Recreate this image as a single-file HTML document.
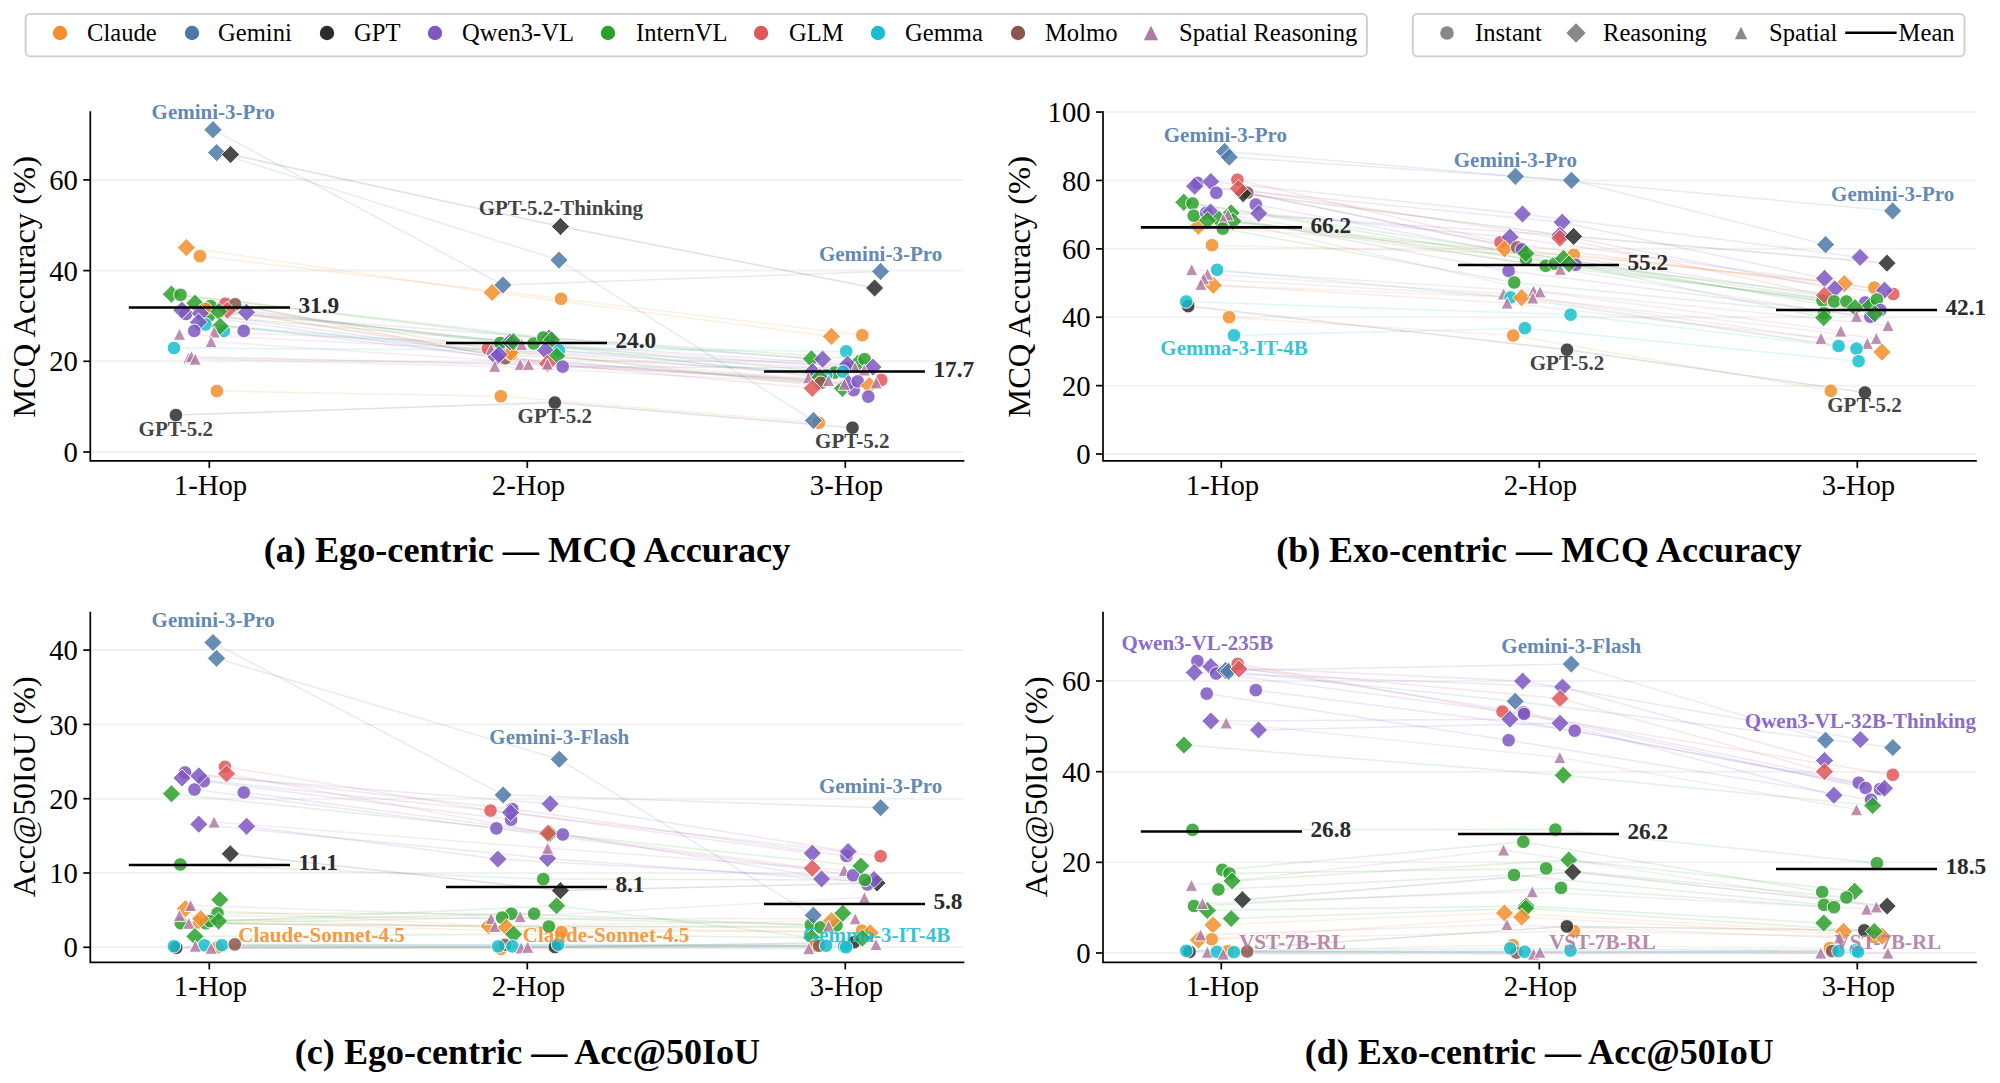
<!DOCTYPE html>
<html lang="en"><head><meta charset="utf-8"><title>Multi-hop accuracy figure</title>
<style>html,body{margin:0;padding:0;background:#fff;}body{width:2000px;height:1083px;overflow:hidden;}svg{display:block;font-family:"Liberation Serif", "DejaVu Serif", serif;}.tk{font-size:28.7px;fill:#000;}.yl{font-size:32.5px;fill:#000;}.tt{font-size:36.2px;font-weight:bold;fill:#000;}.lg{font-size:24.6px;fill:#000;}.an{font-size:21px;font-weight:bold;}.mv{font-size:23.3px;font-weight:bold;fill:#2b2b2b;}</style></head><body>
<svg width="2000" height="1083" viewBox="0 0 2000 1083">
<rect width="2000" height="1083" fill="#fff"/>
<rect x="25.6" y="13.9" width="1341.3" height="42.4" rx="4.5" ry="4.5" fill="#fff" stroke="#cdcdcd" stroke-width="1.8"/>
<rect x="1412.8" y="13.9" width="551.7" height="42.4" rx="4.5" ry="4.5" fill="#fff" stroke="#cdcdcd" stroke-width="1.8"/>
<circle cx="60.0" cy="33.0" r="7.2" fill="#f28e2b" fill-opacity="1.00" stroke="none" stroke-width="0.0"/>
<text class="lg" x="87" y="41.4">Claude</text>
<circle cx="192.0" cy="33.0" r="7.2" fill="#4e79a7" fill-opacity="1.00" stroke="none" stroke-width="0.0"/>
<text class="lg" x="218" y="41.4">Gemini</text>
<circle cx="327.0" cy="33.0" r="7.2" fill="#2b2b2b" fill-opacity="1.00" stroke="none" stroke-width="0.0"/>
<text class="lg" x="354" y="41.4">GPT</text>
<circle cx="435.0" cy="33.0" r="7.2" fill="#7e57c2" fill-opacity="1.00" stroke="none" stroke-width="0.0"/>
<text class="lg" x="462" y="41.4">Qwen3-VL</text>
<circle cx="608.0" cy="33.0" r="7.2" fill="#2ca02c" fill-opacity="1.00" stroke="none" stroke-width="0.0"/>
<text class="lg" x="636" y="41.4">InternVL</text>
<circle cx="761.0" cy="33.0" r="7.2" fill="#e15759" fill-opacity="1.00" stroke="none" stroke-width="0.0"/>
<text class="lg" x="789" y="41.4">GLM</text>
<circle cx="878.0" cy="33.0" r="7.2" fill="#17becf" fill-opacity="1.00" stroke="none" stroke-width="0.0"/>
<text class="lg" x="905" y="41.4">Gemma</text>
<circle cx="1018.0" cy="33.0" r="7.2" fill="#8c564b" fill-opacity="1.00" stroke="none" stroke-width="0.0"/>
<text class="lg" x="1045" y="41.4">Molmo</text>
<path d="M1151.0 25.8L1158.2 40.2L1143.8 40.2Z" fill="#b07aa1" fill-opacity="1.00" stroke="none" stroke-width="0.0"/>
<text class="lg" x="1179" y="41.4">Spatial Reasoning</text>
<circle cx="1447.0" cy="33.0" r="6.8" fill="#888888" fill-opacity="1.00" stroke="none" stroke-width="0.0"/>
<text class="lg" x="1475" y="41.4">Instant</text>
<path d="M1576.0 23.3L1585.7 33.0L1576.0 42.7L1566.3 33.0Z" fill="#888888" fill-opacity="1.00" stroke="none" stroke-width="0.0"/>
<text class="lg" x="1603" y="41.4">Reasoning</text>
<path d="M1741.0 26.8L1747.2 39.2L1734.8 39.2Z" fill="#888888" fill-opacity="1.00" stroke="none" stroke-width="0.0"/>
<text class="lg" x="1769" y="41.4">Spatial</text>
<line x1="1845.2" y1="32.7" x2="1896.6" y2="32.7" stroke="#000" stroke-width="2.6"/>
<text class="lg" x="1898.6" y="41.4">Mean</text>
<line x1="90.3" y1="452.00" x2="963.5" y2="452.00" stroke="#f1f1f1" stroke-width="2"/>
<line x1="90.3" y1="361.30" x2="963.5" y2="361.30" stroke="#f1f1f1" stroke-width="2"/>
<line x1="90.3" y1="270.60" x2="963.5" y2="270.60" stroke="#f1f1f1" stroke-width="2"/>
<line x1="90.3" y1="179.90" x2="963.5" y2="179.90" stroke="#f1f1f1" stroke-width="2"/>
<line x1="225.3" y1="303.7" x2="487.9" y2="348.6" stroke="#e15759" stroke-opacity="0.14" stroke-width="1.5"/>
<line x1="186.0" y1="314.0" x2="562.7" y2="366.6" stroke="#7e57c2" stroke-opacity="0.14" stroke-width="1.5"/>
<line x1="235.1" y1="304.3" x2="505.4" y2="358.3" stroke="#8c564b" stroke-opacity="0.14" stroke-width="1.5"/>
<line x1="227.4" y1="310.2" x2="547.4" y2="363.4" stroke="#e15759" stroke-opacity="0.14" stroke-width="1.5"/>
<line x1="181.9" y1="310.2" x2="549.0" y2="338.0" stroke="#7e57c2" stroke-opacity="0.14" stroke-width="1.5"/>
<line x1="246.5" y1="312.3" x2="510.0" y2="342.0" stroke="#7e57c2" stroke-opacity="0.14" stroke-width="1.5"/>
<line x1="200.3" y1="313.4" x2="499.0" y2="354.6" stroke="#7e57c2" stroke-opacity="0.14" stroke-width="1.5"/>
<line x1="198.5" y1="322.2" x2="496.2" y2="357.0" stroke="#7e57c2" stroke-opacity="0.14" stroke-width="1.5"/>
<line x1="214.2" y1="331.9" x2="521.6" y2="344.5" stroke="#b07aa1" stroke-opacity="0.14" stroke-width="1.5"/>
<line x1="179.5" y1="334.2" x2="491.1" y2="349.5" stroke="#b07aa1" stroke-opacity="0.14" stroke-width="1.5"/>
<line x1="211.1" y1="341.6" x2="547.4" y2="364.0" stroke="#b07aa1" stroke-opacity="0.14" stroke-width="1.5"/>
<line x1="191.5" y1="356.5" x2="520.2" y2="364.3" stroke="#b07aa1" stroke-opacity="0.14" stroke-width="1.5"/>
<line x1="188.8" y1="357.7" x2="528.5" y2="364.3" stroke="#b07aa1" stroke-opacity="0.14" stroke-width="1.5"/>
<line x1="195.2" y1="359.1" x2="494.8" y2="366.2" stroke="#b07aa1" stroke-opacity="0.14" stroke-width="1.5"/>
<line x1="205.4" y1="324.5" x2="499.0" y2="347.7" stroke="#17becf" stroke-opacity="0.14" stroke-width="1.5"/>
<line x1="174.0" y1="348.0" x2="559.0" y2="350.5" stroke="#17becf" stroke-opacity="0.14" stroke-width="1.5"/>
<line x1="175.9" y1="415.1" x2="554.8" y2="402.6" stroke="#2b2b2b" stroke-opacity="0.14" stroke-width="1.5"/>
<line x1="186.3" y1="247.6" x2="492.1" y2="292.5" stroke="#f28e2b" stroke-opacity="0.14" stroke-width="1.5"/>
<line x1="230.5" y1="154.5" x2="560.5" y2="226.5" stroke="#2b2b2b" stroke-opacity="0.14" stroke-width="1.5"/>
<line x1="199.9" y1="256.1" x2="561.1" y2="298.8" stroke="#f28e2b" stroke-opacity="0.14" stroke-width="1.5"/>
<line x1="205.4" y1="308.8" x2="511.0" y2="354.2" stroke="#f28e2b" stroke-opacity="0.14" stroke-width="1.5"/>
<line x1="216.9" y1="391.0" x2="500.8" y2="396.2" stroke="#f28e2b" stroke-opacity="0.14" stroke-width="1.5"/>
<line x1="180.5" y1="294.9" x2="543.3" y2="337.5" stroke="#2ca02c" stroke-opacity="0.14" stroke-width="1.5"/>
<line x1="210.5" y1="306.0" x2="500.3" y2="343.0" stroke="#2ca02c" stroke-opacity="0.14" stroke-width="1.5"/>
<line x1="208.6" y1="316.2" x2="533.6" y2="343.5" stroke="#2ca02c" stroke-opacity="0.14" stroke-width="1.5"/>
<line x1="171.4" y1="294.2" x2="551.6" y2="339.9" stroke="#2ca02c" stroke-opacity="0.14" stroke-width="1.5"/>
<line x1="218.8" y1="311.5" x2="513.3" y2="341.7" stroke="#2ca02c" stroke-opacity="0.14" stroke-width="1.5"/>
<line x1="220.2" y1="326.3" x2="556.7" y2="356.0" stroke="#2ca02c" stroke-opacity="0.14" stroke-width="1.5"/>
<line x1="487.9" y1="348.6" x2="881.3" y2="380.0" stroke="#e15759" stroke-opacity="0.14" stroke-width="1.5"/>
<line x1="562.7" y1="366.6" x2="845.7" y2="368.0" stroke="#7e57c2" stroke-opacity="0.14" stroke-width="1.5"/>
<line x1="505.4" y1="358.3" x2="820.8" y2="382.8" stroke="#8c564b" stroke-opacity="0.14" stroke-width="1.5"/>
<line x1="521.6" y1="344.5" x2="855.0" y2="367.6" stroke="#b07aa1" stroke-opacity="0.14" stroke-width="1.5"/>
<line x1="491.1" y1="349.5" x2="864.2" y2="369.9" stroke="#b07aa1" stroke-opacity="0.14" stroke-width="1.5"/>
<line x1="547.4" y1="364.0" x2="808.3" y2="377.7" stroke="#b07aa1" stroke-opacity="0.14" stroke-width="1.5"/>
<line x1="520.2" y1="364.3" x2="828.6" y2="380.5" stroke="#b07aa1" stroke-opacity="0.14" stroke-width="1.5"/>
<line x1="528.5" y1="364.3" x2="876.2" y2="382.8" stroke="#b07aa1" stroke-opacity="0.14" stroke-width="1.5"/>
<line x1="494.8" y1="366.2" x2="844.3" y2="384.2" stroke="#b07aa1" stroke-opacity="0.14" stroke-width="1.5"/>
<line x1="549.0" y1="338.0" x2="822.6" y2="359.2" stroke="#7e57c2" stroke-opacity="0.14" stroke-width="1.5"/>
<line x1="510.0" y1="342.0" x2="847.6" y2="364.3" stroke="#7e57c2" stroke-opacity="0.14" stroke-width="1.5"/>
<line x1="545.6" y1="350.5" x2="873.0" y2="367.1" stroke="#7e57c2" stroke-opacity="0.14" stroke-width="1.5"/>
<line x1="499.0" y1="354.6" x2="812.5" y2="371.7" stroke="#7e57c2" stroke-opacity="0.14" stroke-width="1.5"/>
<line x1="496.2" y1="357.0" x2="848.5" y2="383.7" stroke="#7e57c2" stroke-opacity="0.14" stroke-width="1.5"/>
<line x1="547.4" y1="363.4" x2="812.3" y2="388.3" stroke="#e15759" stroke-opacity="0.14" stroke-width="1.5"/>
<line x1="499.0" y1="347.7" x2="846.2" y2="351.4" stroke="#17becf" stroke-opacity="0.14" stroke-width="1.5"/>
<line x1="559.0" y1="350.5" x2="826.3" y2="375.0" stroke="#17becf" stroke-opacity="0.14" stroke-width="1.5"/>
<line x1="554.8" y1="402.6" x2="852.5" y2="427.7" stroke="#2b2b2b" stroke-opacity="0.14" stroke-width="1.5"/>
<line x1="492.1" y1="292.5" x2="831.4" y2="336.4" stroke="#f28e2b" stroke-opacity="0.14" stroke-width="1.5"/>
<line x1="510.5" y1="352.3" x2="869.3" y2="385.6" stroke="#f28e2b" stroke-opacity="0.14" stroke-width="1.5"/>
<line x1="560.5" y1="226.5" x2="874.6" y2="288.0" stroke="#2b2b2b" stroke-opacity="0.14" stroke-width="1.5"/>
<line x1="561.1" y1="298.8" x2="862.3" y2="335.2" stroke="#f28e2b" stroke-opacity="0.14" stroke-width="1.5"/>
<line x1="500.8" y1="396.2" x2="818.9" y2="422.8" stroke="#f28e2b" stroke-opacity="0.14" stroke-width="1.5"/>
<line x1="543.3" y1="337.5" x2="864.6" y2="359.2" stroke="#2ca02c" stroke-opacity="0.14" stroke-width="1.5"/>
<line x1="533.6" y1="343.5" x2="834.6" y2="372.6" stroke="#2ca02c" stroke-opacity="0.14" stroke-width="1.5"/>
<line x1="551.6" y1="339.9" x2="811.4" y2="358.8" stroke="#2ca02c" stroke-opacity="0.14" stroke-width="1.5"/>
<line x1="513.3" y1="341.7" x2="819.9" y2="377.2" stroke="#2ca02c" stroke-opacity="0.14" stroke-width="1.5"/>
<line x1="556.7" y1="356.0" x2="842.5" y2="388.3" stroke="#2ca02c" stroke-opacity="0.14" stroke-width="1.5"/>
<line x1="213.0" y1="129.7" x2="502.9" y2="285.0" stroke="#4e79a7" stroke-opacity="0.14" stroke-width="1.5"/>
<line x1="502.9" y1="285.0" x2="880.6" y2="271.5" stroke="#4e79a7" stroke-opacity="0.14" stroke-width="1.5"/>
<line x1="216.7" y1="152.6" x2="559.0" y2="260.1" stroke="#4e79a7" stroke-opacity="0.14" stroke-width="1.5"/>
<line x1="559.0" y1="260.1" x2="813.4" y2="420.5" stroke="#4e79a7" stroke-opacity="0.14" stroke-width="1.5"/>
<circle cx="208.6" cy="316.2" r="6.8" fill="#2ca02c" fill-opacity="0.85" stroke="#fff" stroke-width="0.9"/>
<path d="M171.4 285.1L180.5 294.2L171.4 303.2L162.3 294.2Z" fill="#2ca02c" fill-opacity="0.85" stroke="#fff" stroke-width="0.9"/>
<circle cx="180.5" cy="294.9" r="6.8" fill="#2ca02c" fill-opacity="0.85" stroke="#fff" stroke-width="0.9"/>
<path d="M195.0 294.1L204.1 303.2L195.0 312.2L185.9 303.2Z" fill="#2ca02c" fill-opacity="0.85" stroke="#fff" stroke-width="0.9"/>
<circle cx="210.5" cy="306.0" r="6.8" fill="#2ca02c" fill-opacity="0.85" stroke="#fff" stroke-width="0.9"/>
<circle cx="225.3" cy="303.7" r="6.8" fill="#e15759" fill-opacity="0.85" stroke="#fff" stroke-width="0.9"/>
<circle cx="235.1" cy="304.3" r="6.8" fill="#8c564b" fill-opacity="0.85" stroke="#fff" stroke-width="0.9"/>
<path d="M227.4 301.1L236.5 310.2L227.4 319.2L218.3 310.2Z" fill="#e15759" fill-opacity="0.85" stroke="#fff" stroke-width="0.9"/>
<path d="M246.5 303.2L255.6 312.3L246.5 321.4L237.4 312.3Z" fill="#7e57c2" fill-opacity="0.85" stroke="#fff" stroke-width="0.9"/>
<circle cx="186.0" cy="314.0" r="6.8" fill="#7e57c2" fill-opacity="0.85" stroke="#fff" stroke-width="0.9"/>
<path d="M181.9 301.1L191.0 310.2L181.9 319.2L172.8 310.2Z" fill="#7e57c2" fill-opacity="0.85" stroke="#fff" stroke-width="0.9"/>
<circle cx="205.4" cy="308.8" r="6.8" fill="#f28e2b" fill-opacity="0.85" stroke="#fff" stroke-width="0.9"/>
<path d="M200.3 304.3L209.4 313.4L200.3 322.4L191.2 313.4Z" fill="#7e57c2" fill-opacity="0.85" stroke="#fff" stroke-width="0.9"/>
<path d="M218.8 302.4L227.9 311.5L218.8 320.6L209.8 311.5Z" fill="#2ca02c" fill-opacity="0.85" stroke="#fff" stroke-width="0.9"/>
<circle cx="205.4" cy="324.5" r="6.8" fill="#17becf" fill-opacity="0.85" stroke="#fff" stroke-width="0.9"/>
<path d="M198.5 313.1L207.6 322.2L198.5 331.2L189.4 322.2Z" fill="#7e57c2" fill-opacity="0.85" stroke="#fff" stroke-width="0.9"/>
<circle cx="223.9" cy="330.9" r="6.8" fill="#17becf" fill-opacity="0.85" stroke="#fff" stroke-width="0.9"/>
<path d="M220.2 317.2L229.2 326.3L220.2 335.4L211.1 326.3Z" fill="#2ca02c" fill-opacity="0.85" stroke="#fff" stroke-width="0.9"/>
<circle cx="194.3" cy="330.9" r="6.8" fill="#7e57c2" fill-opacity="0.85" stroke="#fff" stroke-width="0.9"/>
<circle cx="243.7" cy="330.9" r="6.8" fill="#7e57c2" fill-opacity="0.85" stroke="#fff" stroke-width="0.9"/>
<path d="M179.5 328.1L185.6 340.3L173.4 340.3Z" fill="#b07aa1" fill-opacity="0.85" stroke="#fff" stroke-width="0.9"/>
<path d="M214.2 325.8L220.3 338.0L208.1 338.0Z" fill="#b07aa1" fill-opacity="0.85" stroke="#fff" stroke-width="0.9"/>
<path d="M211.1 335.5L217.2 347.7L205.0 347.7Z" fill="#b07aa1" fill-opacity="0.85" stroke="#fff" stroke-width="0.9"/>
<circle cx="174.0" cy="348.0" r="6.8" fill="#17becf" fill-opacity="0.85" stroke="#fff" stroke-width="0.9"/>
<path d="M188.8 351.6L194.9 363.8L182.7 363.8Z" fill="#b07aa1" fill-opacity="0.85" stroke="#fff" stroke-width="0.9"/>
<path d="M191.5 350.4L197.6 362.6L185.4 362.6Z" fill="#b07aa1" fill-opacity="0.85" stroke="#fff" stroke-width="0.9"/>
<path d="M195.2 353.0L201.3 365.2L189.1 365.2Z" fill="#b07aa1" fill-opacity="0.85" stroke="#fff" stroke-width="0.9"/>
<path d="M213.0 120.6L222.1 129.7L213.0 138.8L203.9 129.7Z" fill="#4e79a7" fill-opacity="0.85" stroke="#fff" stroke-width="0.9"/>
<path d="M216.7 143.5L225.8 152.6L216.7 161.7L207.6 152.6Z" fill="#4e79a7" fill-opacity="0.85" stroke="#fff" stroke-width="0.9"/>
<path d="M230.5 145.4L239.6 154.5L230.5 163.6L221.4 154.5Z" fill="#2b2b2b" fill-opacity="0.85" stroke="#fff" stroke-width="0.9"/>
<path d="M186.3 238.5L195.4 247.6L186.3 256.6L177.2 247.6Z" fill="#f28e2b" fill-opacity="0.85" stroke="#fff" stroke-width="0.9"/>
<circle cx="199.9" cy="256.1" r="6.8" fill="#f28e2b" fill-opacity="0.85" stroke="#fff" stroke-width="0.9"/>
<circle cx="216.9" cy="391.0" r="6.8" fill="#f28e2b" fill-opacity="0.85" stroke="#fff" stroke-width="0.9"/>
<circle cx="175.9" cy="415.1" r="6.8" fill="#2b2b2b" fill-opacity="0.85" stroke="#fff" stroke-width="0.9"/>
<circle cx="505.4" cy="358.3" r="6.8" fill="#8c564b" fill-opacity="0.85" stroke="#fff" stroke-width="0.9"/>
<circle cx="511.0" cy="354.2" r="6.8" fill="#f28e2b" fill-opacity="0.85" stroke="#fff" stroke-width="0.9"/>
<path d="M510.5 343.2L519.5 352.3L510.5 361.4L501.4 352.3Z" fill="#f28e2b" fill-opacity="0.85" stroke="#fff" stroke-width="0.9"/>
<circle cx="499.0" cy="347.7" r="6.8" fill="#17becf" fill-opacity="0.85" stroke="#fff" stroke-width="0.9"/>
<circle cx="500.3" cy="343.0" r="6.8" fill="#2ca02c" fill-opacity="0.85" stroke="#fff" stroke-width="0.9"/>
<circle cx="487.9" cy="348.6" r="6.8" fill="#e15759" fill-opacity="0.85" stroke="#fff" stroke-width="0.9"/>
<path d="M491.1 343.4L497.2 355.6L485.0 355.6Z" fill="#b07aa1" fill-opacity="0.85" stroke="#fff" stroke-width="0.9"/>
<path d="M549.0 328.9L558.0 338.0L549.0 347.1L540.0 338.0Z" fill="#7e57c2" fill-opacity="0.85" stroke="#fff" stroke-width="0.9"/>
<path d="M510.0 332.9L519.0 342.0L510.0 351.1L500.9 342.0Z" fill="#7e57c2" fill-opacity="0.85" stroke="#fff" stroke-width="0.9"/>
<path d="M496.2 347.9L505.2 357.0L496.2 366.1L487.1 357.0Z" fill="#7e57c2" fill-opacity="0.85" stroke="#fff" stroke-width="0.9"/>
<path d="M499.0 345.6L508.1 354.6L499.0 363.7L489.9 354.6Z" fill="#7e57c2" fill-opacity="0.85" stroke="#fff" stroke-width="0.9"/>
<path d="M513.3 332.6L522.3 341.7L513.3 350.8L504.2 341.7Z" fill="#2ca02c" fill-opacity="0.85" stroke="#fff" stroke-width="0.9"/>
<path d="M521.6 338.4L527.7 350.6L515.5 350.6Z" fill="#b07aa1" fill-opacity="0.85" stroke="#fff" stroke-width="0.9"/>
<circle cx="533.6" cy="343.5" r="6.8" fill="#2ca02c" fill-opacity="0.85" stroke="#fff" stroke-width="0.9"/>
<circle cx="543.3" cy="337.5" r="6.8" fill="#2ca02c" fill-opacity="0.85" stroke="#fff" stroke-width="0.9"/>
<path d="M551.6 330.8L560.6 339.9L551.6 348.9L542.6 339.9Z" fill="#2ca02c" fill-opacity="0.85" stroke="#fff" stroke-width="0.9"/>
<circle cx="559.0" cy="350.5" r="6.8" fill="#17becf" fill-opacity="0.85" stroke="#fff" stroke-width="0.9"/>
<path d="M545.6 341.4L554.6 350.5L545.6 359.6L536.6 350.5Z" fill="#7e57c2" fill-opacity="0.85" stroke="#fff" stroke-width="0.9"/>
<path d="M556.7 346.9L565.8 356.0L556.7 365.1L547.7 356.0Z" fill="#2ca02c" fill-opacity="0.85" stroke="#fff" stroke-width="0.9"/>
<path d="M547.4 354.3L556.4 363.4L547.4 372.4L538.4 363.4Z" fill="#e15759" fill-opacity="0.85" stroke="#fff" stroke-width="0.9"/>
<path d="M547.4 357.9L553.5 370.1L541.3 370.1Z" fill="#b07aa1" fill-opacity="0.85" stroke="#fff" stroke-width="0.9"/>
<circle cx="562.7" cy="366.6" r="6.8" fill="#7e57c2" fill-opacity="0.85" stroke="#fff" stroke-width="0.9"/>
<path d="M494.8 360.1L500.9 372.3L488.7 372.3Z" fill="#b07aa1" fill-opacity="0.85" stroke="#fff" stroke-width="0.9"/>
<path d="M520.2 358.2L526.3 370.4L514.1 370.4Z" fill="#b07aa1" fill-opacity="0.85" stroke="#fff" stroke-width="0.9"/>
<path d="M528.5 358.2L534.6 370.4L522.4 370.4Z" fill="#b07aa1" fill-opacity="0.85" stroke="#fff" stroke-width="0.9"/>
<circle cx="500.8" cy="396.2" r="6.8" fill="#f28e2b" fill-opacity="0.85" stroke="#fff" stroke-width="0.9"/>
<circle cx="554.8" cy="402.6" r="6.8" fill="#2b2b2b" fill-opacity="0.85" stroke="#fff" stroke-width="0.9"/>
<path d="M492.1 283.4L501.2 292.5L492.1 301.6L483.1 292.5Z" fill="#f28e2b" fill-opacity="0.85" stroke="#fff" stroke-width="0.9"/>
<path d="M502.9 275.9L511.9 285.0L502.9 294.1L493.8 285.0Z" fill="#4e79a7" fill-opacity="0.85" stroke="#fff" stroke-width="0.9"/>
<circle cx="561.1" cy="298.8" r="6.8" fill="#f28e2b" fill-opacity="0.85" stroke="#fff" stroke-width="0.9"/>
<path d="M559.0 251.1L568.0 260.1L559.0 269.2L550.0 260.1Z" fill="#4e79a7" fill-opacity="0.85" stroke="#fff" stroke-width="0.9"/>
<path d="M560.5 217.4L569.5 226.5L560.5 235.6L551.5 226.5Z" fill="#2b2b2b" fill-opacity="0.85" stroke="#fff" stroke-width="0.9"/>
<path d="M831.4 327.3L840.4 336.4L831.4 345.4L822.4 336.4Z" fill="#f28e2b" fill-opacity="0.85" stroke="#fff" stroke-width="0.9"/>
<circle cx="862.3" cy="335.2" r="6.8" fill="#f28e2b" fill-opacity="0.85" stroke="#fff" stroke-width="0.9"/>
<circle cx="846.2" cy="351.4" r="6.8" fill="#17becf" fill-opacity="0.85" stroke="#fff" stroke-width="0.9"/>
<path d="M811.4 349.8L820.4 358.8L811.4 367.9L802.4 358.8Z" fill="#2ca02c" fill-opacity="0.85" stroke="#fff" stroke-width="0.9"/>
<path d="M822.6 350.1L831.6 359.2L822.6 368.2L813.6 359.2Z" fill="#7e57c2" fill-opacity="0.85" stroke="#fff" stroke-width="0.9"/>
<path d="M857.7 354.3L866.8 363.4L857.7 372.4L848.7 363.4Z" fill="#2ca02c" fill-opacity="0.85" stroke="#fff" stroke-width="0.9"/>
<circle cx="864.6" cy="359.2" r="6.8" fill="#2ca02c" fill-opacity="0.85" stroke="#fff" stroke-width="0.9"/>
<circle cx="845.7" cy="368.0" r="6.8" fill="#7e57c2" fill-opacity="0.85" stroke="#fff" stroke-width="0.9"/>
<path d="M847.6 355.2L856.6 364.3L847.6 373.4L838.6 364.3Z" fill="#7e57c2" fill-opacity="0.85" stroke="#fff" stroke-width="0.9"/>
<path d="M873.0 358.1L882.0 367.1L873.0 376.2L864.0 367.1Z" fill="#7e57c2" fill-opacity="0.85" stroke="#fff" stroke-width="0.9"/>
<path d="M855.0 361.5L861.1 373.7L848.9 373.7Z" fill="#b07aa1" fill-opacity="0.85" stroke="#fff" stroke-width="0.9"/>
<path d="M864.2 363.8L870.3 376.0L858.1 376.0Z" fill="#b07aa1" fill-opacity="0.85" stroke="#fff" stroke-width="0.9"/>
<circle cx="834.6" cy="372.6" r="6.8" fill="#2ca02c" fill-opacity="0.85" stroke="#fff" stroke-width="0.9"/>
<circle cx="826.3" cy="375.0" r="6.8" fill="#17becf" fill-opacity="0.85" stroke="#fff" stroke-width="0.9"/>
<circle cx="843.0" cy="371.7" r="6.8" fill="#17becf" fill-opacity="0.85" stroke="#fff" stroke-width="0.9"/>
<path d="M812.5 362.6L821.5 371.7L812.5 380.8L803.5 371.7Z" fill="#7e57c2" fill-opacity="0.85" stroke="#fff" stroke-width="0.9"/>
<path d="M819.9 368.1L828.9 377.2L819.9 386.2L810.9 377.2Z" fill="#2ca02c" fill-opacity="0.85" stroke="#fff" stroke-width="0.9"/>
<path d="M808.3 371.6L814.4 383.8L802.2 383.8Z" fill="#b07aa1" fill-opacity="0.85" stroke="#fff" stroke-width="0.9"/>
<circle cx="820.8" cy="382.8" r="6.8" fill="#8c564b" fill-opacity="0.85" stroke="#fff" stroke-width="0.9"/>
<path d="M828.6 374.4L834.7 386.6L822.5 386.6Z" fill="#b07aa1" fill-opacity="0.85" stroke="#fff" stroke-width="0.9"/>
<path d="M812.3 379.2L821.3 388.3L812.3 397.4L803.2 388.3Z" fill="#e15759" fill-opacity="0.85" stroke="#fff" stroke-width="0.9"/>
<path d="M842.5 379.2L851.5 388.3L842.5 397.4L833.5 388.3Z" fill="#2ca02c" fill-opacity="0.85" stroke="#fff" stroke-width="0.9"/>
<circle cx="853.6" cy="390.2" r="6.8" fill="#7e57c2" fill-opacity="0.85" stroke="#fff" stroke-width="0.9"/>
<path d="M848.5 374.6L857.5 383.7L848.5 392.8L839.5 383.7Z" fill="#7e57c2" fill-opacity="0.85" stroke="#fff" stroke-width="0.9"/>
<path d="M844.3 378.1L850.4 390.3L838.2 390.3Z" fill="#b07aa1" fill-opacity="0.85" stroke="#fff" stroke-width="0.9"/>
<circle cx="857.7" cy="381.4" r="6.8" fill="#7e57c2" fill-opacity="0.85" stroke="#fff" stroke-width="0.9"/>
<circle cx="881.3" cy="380.0" r="6.8" fill="#e15759" fill-opacity="0.85" stroke="#fff" stroke-width="0.9"/>
<path d="M869.3 376.6L878.3 385.6L869.3 394.7L860.2 385.6Z" fill="#f28e2b" fill-opacity="0.85" stroke="#fff" stroke-width="0.9"/>
<path d="M876.2 376.7L882.3 388.9L870.1 388.9Z" fill="#b07aa1" fill-opacity="0.85" stroke="#fff" stroke-width="0.9"/>
<circle cx="868.3" cy="396.6" r="6.8" fill="#7e57c2" fill-opacity="0.85" stroke="#fff" stroke-width="0.9"/>
<circle cx="818.9" cy="422.8" r="6.8" fill="#f28e2b" fill-opacity="0.85" stroke="#fff" stroke-width="0.9"/>
<path d="M813.4 411.4L822.4 420.5L813.4 429.6L804.4 420.5Z" fill="#4e79a7" fill-opacity="0.85" stroke="#fff" stroke-width="0.9"/>
<circle cx="852.5" cy="427.7" r="6.8" fill="#2b2b2b" fill-opacity="0.85" stroke="#fff" stroke-width="0.9"/>
<path d="M880.6 262.4L889.6 271.5L880.6 280.6L871.6 271.5Z" fill="#4e79a7" fill-opacity="0.85" stroke="#fff" stroke-width="0.9"/>
<path d="M874.6 278.9L883.6 288.0L874.6 297.1L865.6 288.0Z" fill="#2b2b2b" fill-opacity="0.85" stroke="#fff" stroke-width="0.9"/>
<path d="M90.3 112.0L90.3 460.9L963.5 460.9" fill="none" stroke="#000" stroke-width="1.7" stroke-linecap="square"/>
<line x1="83.3" y1="452.00" x2="90.3" y2="452.00" stroke="#000" stroke-width="1.7"/>
<text class="tk" text-anchor="end" x="77.9" y="462.1">0</text>
<line x1="83.3" y1="361.30" x2="90.3" y2="361.30" stroke="#000" stroke-width="1.7"/>
<text class="tk" text-anchor="end" x="77.9" y="371.4">20</text>
<line x1="83.3" y1="270.60" x2="90.3" y2="270.60" stroke="#000" stroke-width="1.7"/>
<text class="tk" text-anchor="end" x="77.9" y="280.7">40</text>
<line x1="83.3" y1="179.90" x2="90.3" y2="179.90" stroke="#000" stroke-width="1.7"/>
<text class="tk" text-anchor="end" x="77.9" y="190.0">60</text>
<line x1="209.3" y1="460.9" x2="209.3" y2="467.9" stroke="#000" stroke-width="1.7"/>
<text class="tk" text-anchor="middle" x="210.5" y="494.5">1-Hop</text>
<line x1="527.3" y1="460.9" x2="527.3" y2="467.9" stroke="#000" stroke-width="1.7"/>
<text class="tk" text-anchor="middle" x="528.5" y="494.5">2-Hop</text>
<line x1="845.3" y1="460.9" x2="845.3" y2="467.9" stroke="#000" stroke-width="1.7"/>
<text class="tk" text-anchor="middle" x="846.5" y="494.5">3-Hop</text>
<line x1="128.8" y1="307.5" x2="290.0" y2="307.5" stroke="#000" stroke-width="2.7"/>
<text class="mv" x="298.4" y="312.7">31.9</text>
<line x1="446.0" y1="343.0" x2="607.0" y2="343.0" stroke="#000" stroke-width="2.7"/>
<text class="mv" x="615.4" y="348.2">24.0</text>
<line x1="764.0" y1="371.5" x2="925.0" y2="371.5" stroke="#000" stroke-width="2.7"/>
<text class="mv" x="933.4" y="376.7">17.7</text>
<text class="an" text-anchor="middle" x="213.2" y="118.5" fill="#4e79a7" fill-opacity="0.9">Gemini-3-Pro</text>
<text class="an" text-anchor="middle" x="560.9" y="215.0" fill="#2b2b2b" fill-opacity="0.9">GPT-5.2-Thinking</text>
<text class="an" text-anchor="middle" x="880.6" y="260.8" fill="#4e79a7" fill-opacity="0.9">Gemini-3-Pro</text>
<text class="an" text-anchor="middle" x="175.8" y="435.9" fill="#2b2b2b" fill-opacity="0.9">GPT-5.2</text>
<text class="an" text-anchor="middle" x="554.8" y="423.4" fill="#2b2b2b" fill-opacity="0.9">GPT-5.2</text>
<text class="an" text-anchor="middle" x="852.3" y="448.4" fill="#2b2b2b" fill-opacity="0.9">GPT-5.2</text>
<text class="yl" text-anchor="middle" transform="translate(35.3 286.9) rotate(-90)">MCQ Accuracy (%)</text>
<text class="tt" text-anchor="middle" x="527.0" y="562.0">(a) Ego-centric — MCQ Accuracy</text>
<line x1="1103.0" y1="454.05" x2="1976.0" y2="454.05" stroke="#f1f1f1" stroke-width="2"/>
<line x1="1103.0" y1="385.65" x2="1976.0" y2="385.65" stroke="#f1f1f1" stroke-width="2"/>
<line x1="1103.0" y1="317.25" x2="1976.0" y2="317.25" stroke="#f1f1f1" stroke-width="2"/>
<line x1="1103.0" y1="248.85" x2="1976.0" y2="248.85" stroke="#f1f1f1" stroke-width="2"/>
<line x1="1103.0" y1="180.45" x2="1976.0" y2="180.45" stroke="#f1f1f1" stroke-width="2"/>
<line x1="1103.0" y1="112.05" x2="1976.0" y2="112.05" stroke="#f1f1f1" stroke-width="2"/>
<line x1="1224.6" y1="151.5" x2="1515.4" y2="176.3" stroke="#4e79a7" stroke-opacity="0.14" stroke-width="1.5"/>
<line x1="1229.3" y1="157.1" x2="1571.4" y2="180.3" stroke="#4e79a7" stroke-opacity="0.14" stroke-width="1.5"/>
<line x1="1197.4" y1="182.9" x2="1521.8" y2="249.4" stroke="#7e57c2" stroke-opacity="0.14" stroke-width="1.5"/>
<line x1="1255.8" y1="204.6" x2="1575.6" y2="264.8" stroke="#7e57c2" stroke-opacity="0.14" stroke-width="1.5"/>
<line x1="1206.2" y1="212.9" x2="1508.6" y2="270.9" stroke="#7e57c2" stroke-opacity="0.14" stroke-width="1.5"/>
<line x1="1237.4" y1="179.7" x2="1500.5" y2="242.3" stroke="#e15759" stroke-opacity="0.14" stroke-width="1.5"/>
<line x1="1247.3" y1="192.8" x2="1517.2" y2="247.4" stroke="#8c564b" stroke-opacity="0.14" stroke-width="1.5"/>
<line x1="1210.8" y1="181.6" x2="1522.5" y2="214.0" stroke="#7e57c2" stroke-opacity="0.14" stroke-width="1.5"/>
<line x1="1194.6" y1="186.2" x2="1562.2" y2="222.2" stroke="#7e57c2" stroke-opacity="0.14" stroke-width="1.5"/>
<line x1="1210.6" y1="212.0" x2="1559.9" y2="235.2" stroke="#7e57c2" stroke-opacity="0.14" stroke-width="1.5"/>
<line x1="1258.8" y1="213.4" x2="1510.1" y2="237.2" stroke="#7e57c2" stroke-opacity="0.14" stroke-width="1.5"/>
<line x1="1238.5" y1="188.5" x2="1559.9" y2="238.2" stroke="#e15759" stroke-opacity="0.14" stroke-width="1.5"/>
<line x1="1227.9" y1="214.8" x2="1560.3" y2="269.2" stroke="#b07aa1" stroke-opacity="0.14" stroke-width="1.5"/>
<line x1="1223.3" y1="219.4" x2="1533.5" y2="290.8" stroke="#b07aa1" stroke-opacity="0.14" stroke-width="1.5"/>
<line x1="1191.7" y1="269.5" x2="1540.1" y2="291.8" stroke="#b07aa1" stroke-opacity="0.14" stroke-width="1.5"/>
<line x1="1207.5" y1="274.1" x2="1503.5" y2="293.8" stroke="#b07aa1" stroke-opacity="0.14" stroke-width="1.5"/>
<line x1="1203.7" y1="278.7" x2="1532.8" y2="297.9" stroke="#b07aa1" stroke-opacity="0.14" stroke-width="1.5"/>
<line x1="1200.9" y1="284.3" x2="1507.1" y2="303.0" stroke="#b07aa1" stroke-opacity="0.14" stroke-width="1.5"/>
<line x1="1217.1" y1="269.8" x2="1510.6" y2="297.4" stroke="#17becf" stroke-opacity="0.14" stroke-width="1.5"/>
<line x1="1186.2" y1="301.5" x2="1570.6" y2="314.7" stroke="#17becf" stroke-opacity="0.14" stroke-width="1.5"/>
<line x1="1234.0" y1="335.4" x2="1524.9" y2="328.2" stroke="#17becf" stroke-opacity="0.14" stroke-width="1.5"/>
<line x1="1188.2" y1="306.1" x2="1567.0" y2="349.7" stroke="#2b2b2b" stroke-opacity="0.14" stroke-width="1.5"/>
<line x1="1198.3" y1="226.3" x2="1504.5" y2="248.9" stroke="#f28e2b" stroke-opacity="0.14" stroke-width="1.5"/>
<line x1="1213.3" y1="285.3" x2="1521.6" y2="297.7" stroke="#f28e2b" stroke-opacity="0.14" stroke-width="1.5"/>
<line x1="1243.1" y1="193.6" x2="1573.6" y2="236.4" stroke="#2b2b2b" stroke-opacity="0.14" stroke-width="1.5"/>
<line x1="1212.0" y1="245.2" x2="1573.8" y2="254.8" stroke="#f28e2b" stroke-opacity="0.14" stroke-width="1.5"/>
<line x1="1229.1" y1="317.3" x2="1513.2" y2="335.5" stroke="#f28e2b" stroke-opacity="0.14" stroke-width="1.5"/>
<line x1="1192.5" y1="203.5" x2="1525.9" y2="259.0" stroke="#2ca02c" stroke-opacity="0.14" stroke-width="1.5"/>
<line x1="1193.7" y1="215.7" x2="1545.7" y2="265.8" stroke="#2ca02c" stroke-opacity="0.14" stroke-width="1.5"/>
<line x1="1222.8" y1="228.6" x2="1514.2" y2="282.5" stroke="#2ca02c" stroke-opacity="0.14" stroke-width="1.5"/>
<line x1="1183.8" y1="202.3" x2="1525.9" y2="253.5" stroke="#2ca02c" stroke-opacity="0.14" stroke-width="1.5"/>
<line x1="1219.1" y1="219.4" x2="1563.4" y2="258.4" stroke="#2ca02c" stroke-opacity="0.14" stroke-width="1.5"/>
<line x1="1232.9" y1="221.3" x2="1569.0" y2="263.8" stroke="#2ca02c" stroke-opacity="0.14" stroke-width="1.5"/>
<line x1="1515.4" y1="176.3" x2="1892.6" y2="210.9" stroke="#4e79a7" stroke-opacity="0.14" stroke-width="1.5"/>
<line x1="1571.4" y1="180.3" x2="1825.6" y2="244.6" stroke="#4e79a7" stroke-opacity="0.14" stroke-width="1.5"/>
<line x1="1500.5" y1="242.3" x2="1893.3" y2="294.0" stroke="#e15759" stroke-opacity="0.14" stroke-width="1.5"/>
<line x1="1521.8" y1="249.4" x2="1865.2" y2="302.5" stroke="#7e57c2" stroke-opacity="0.14" stroke-width="1.5"/>
<line x1="1575.6" y1="264.8" x2="1880.4" y2="310.1" stroke="#7e57c2" stroke-opacity="0.14" stroke-width="1.5"/>
<line x1="1508.6" y1="270.9" x2="1870.3" y2="316.7" stroke="#7e57c2" stroke-opacity="0.14" stroke-width="1.5"/>
<line x1="1522.5" y1="214.0" x2="1860.1" y2="257.4" stroke="#7e57c2" stroke-opacity="0.14" stroke-width="1.5"/>
<line x1="1562.2" y1="222.2" x2="1824.5" y2="278.4" stroke="#7e57c2" stroke-opacity="0.14" stroke-width="1.5"/>
<line x1="1559.9" y1="235.2" x2="1834.7" y2="288.9" stroke="#7e57c2" stroke-opacity="0.14" stroke-width="1.5"/>
<line x1="1510.1" y1="237.2" x2="1884.5" y2="290.2" stroke="#7e57c2" stroke-opacity="0.14" stroke-width="1.5"/>
<line x1="1559.9" y1="238.2" x2="1824.4" y2="295.2" stroke="#e15759" stroke-opacity="0.14" stroke-width="1.5"/>
<line x1="1560.3" y1="269.2" x2="1856.5" y2="316.2" stroke="#b07aa1" stroke-opacity="0.14" stroke-width="1.5"/>
<line x1="1533.5" y1="290.8" x2="1888.0" y2="325.4" stroke="#b07aa1" stroke-opacity="0.14" stroke-width="1.5"/>
<line x1="1540.1" y1="291.8" x2="1840.8" y2="331.0" stroke="#b07aa1" stroke-opacity="0.14" stroke-width="1.5"/>
<line x1="1503.5" y1="293.8" x2="1821.0" y2="338.3" stroke="#b07aa1" stroke-opacity="0.14" stroke-width="1.5"/>
<line x1="1532.8" y1="297.9" x2="1876.3" y2="338.3" stroke="#b07aa1" stroke-opacity="0.14" stroke-width="1.5"/>
<line x1="1507.1" y1="303.0" x2="1867.4" y2="343.3" stroke="#b07aa1" stroke-opacity="0.14" stroke-width="1.5"/>
<line x1="1510.6" y1="297.4" x2="1838.6" y2="346.0" stroke="#17becf" stroke-opacity="0.14" stroke-width="1.5"/>
<line x1="1570.6" y1="314.7" x2="1856.5" y2="348.7" stroke="#17becf" stroke-opacity="0.14" stroke-width="1.5"/>
<line x1="1524.9" y1="328.2" x2="1858.6" y2="361.2" stroke="#17becf" stroke-opacity="0.14" stroke-width="1.5"/>
<line x1="1567.0" y1="349.7" x2="1864.9" y2="392.5" stroke="#2b2b2b" stroke-opacity="0.14" stroke-width="1.5"/>
<line x1="1504.5" y1="248.9" x2="1844.3" y2="283.6" stroke="#f28e2b" stroke-opacity="0.14" stroke-width="1.5"/>
<line x1="1521.6" y1="297.7" x2="1881.9" y2="352.1" stroke="#f28e2b" stroke-opacity="0.14" stroke-width="1.5"/>
<line x1="1573.6" y1="236.4" x2="1887.0" y2="263.2" stroke="#2b2b2b" stroke-opacity="0.14" stroke-width="1.5"/>
<line x1="1573.8" y1="254.8" x2="1874.3" y2="287.7" stroke="#f28e2b" stroke-opacity="0.14" stroke-width="1.5"/>
<line x1="1513.2" y1="335.5" x2="1830.8" y2="390.8" stroke="#f28e2b" stroke-opacity="0.14" stroke-width="1.5"/>
<line x1="1525.9" y1="259.0" x2="1876.9" y2="299.5" stroke="#2ca02c" stroke-opacity="0.14" stroke-width="1.5"/>
<line x1="1554.8" y1="263.8" x2="1822.5" y2="300.5" stroke="#2ca02c" stroke-opacity="0.14" stroke-width="1.5"/>
<line x1="1545.7" y1="265.8" x2="1846.4" y2="301.5" stroke="#2ca02c" stroke-opacity="0.14" stroke-width="1.5"/>
<line x1="1514.2" y1="282.5" x2="1824.0" y2="313.2" stroke="#2ca02c" stroke-opacity="0.14" stroke-width="1.5"/>
<line x1="1525.9" y1="253.5" x2="1870.3" y2="305.6" stroke="#2ca02c" stroke-opacity="0.14" stroke-width="1.5"/>
<line x1="1563.4" y1="258.4" x2="1874.8" y2="313.7" stroke="#2ca02c" stroke-opacity="0.14" stroke-width="1.5"/>
<line x1="1569.0" y1="263.8" x2="1823.7" y2="317.7" stroke="#2ca02c" stroke-opacity="0.14" stroke-width="1.5"/>
<path d="M1198.3 217.2L1207.3 226.3L1198.3 235.4L1189.2 226.3Z" fill="#f28e2b" fill-opacity="0.85" stroke="#fff" stroke-width="0.9"/>
<path d="M1224.6 142.4L1233.6 151.5L1224.6 160.6L1215.5 151.5Z" fill="#4e79a7" fill-opacity="0.85" stroke="#fff" stroke-width="0.9"/>
<path d="M1229.3 148.0L1238.3 157.1L1229.3 166.2L1220.2 157.1Z" fill="#4e79a7" fill-opacity="0.85" stroke="#fff" stroke-width="0.9"/>
<circle cx="1197.4" cy="182.9" r="6.8" fill="#7e57c2" fill-opacity="0.85" stroke="#fff" stroke-width="0.9"/>
<path d="M1194.6 177.1L1203.6 186.2L1194.6 195.2L1185.5 186.2Z" fill="#7e57c2" fill-opacity="0.85" stroke="#fff" stroke-width="0.9"/>
<path d="M1210.8 172.5L1219.8 181.6L1210.8 190.7L1201.8 181.6Z" fill="#7e57c2" fill-opacity="0.85" stroke="#fff" stroke-width="0.9"/>
<circle cx="1216.3" cy="192.8" r="6.8" fill="#7e57c2" fill-opacity="0.85" stroke="#fff" stroke-width="0.9"/>
<circle cx="1237.4" cy="179.7" r="6.8" fill="#e15759" fill-opacity="0.85" stroke="#fff" stroke-width="0.9"/>
<circle cx="1247.3" cy="192.8" r="6.8" fill="#8c564b" fill-opacity="0.85" stroke="#fff" stroke-width="0.9"/>
<path d="M1243.1 184.5L1252.1 193.6L1243.1 202.7L1234.0 193.6Z" fill="#2b2b2b" fill-opacity="0.85" stroke="#fff" stroke-width="0.9"/>
<path d="M1238.5 179.4L1247.5 188.5L1238.5 197.6L1229.5 188.5Z" fill="#e15759" fill-opacity="0.85" stroke="#fff" stroke-width="0.9"/>
<circle cx="1255.8" cy="204.6" r="6.8" fill="#7e57c2" fill-opacity="0.85" stroke="#fff" stroke-width="0.9"/>
<path d="M1258.8 204.3L1267.8 213.4L1258.8 222.5L1249.8 213.4Z" fill="#7e57c2" fill-opacity="0.85" stroke="#fff" stroke-width="0.9"/>
<path d="M1183.8 193.2L1192.8 202.3L1183.8 211.4L1174.8 202.3Z" fill="#2ca02c" fill-opacity="0.85" stroke="#fff" stroke-width="0.9"/>
<circle cx="1192.5" cy="203.5" r="6.8" fill="#2ca02c" fill-opacity="0.85" stroke="#fff" stroke-width="0.9"/>
<circle cx="1193.7" cy="215.7" r="6.8" fill="#2ca02c" fill-opacity="0.85" stroke="#fff" stroke-width="0.9"/>
<circle cx="1206.2" cy="212.9" r="6.8" fill="#7e57c2" fill-opacity="0.85" stroke="#fff" stroke-width="0.9"/>
<path d="M1210.6 202.9L1219.6 212.0L1210.6 221.1L1201.5 212.0Z" fill="#7e57c2" fill-opacity="0.85" stroke="#fff" stroke-width="0.9"/>
<path d="M1231.1 203.8L1240.1 212.9L1231.1 222.0L1222.0 212.9Z" fill="#2ca02c" fill-opacity="0.85" stroke="#fff" stroke-width="0.9"/>
<path d="M1219.1 210.3L1228.1 219.4L1219.1 228.5L1210.0 219.4Z" fill="#2ca02c" fill-opacity="0.85" stroke="#fff" stroke-width="0.9"/>
<path d="M1232.9 212.2L1242.0 221.3L1232.9 230.4L1223.9 221.3Z" fill="#2ca02c" fill-opacity="0.85" stroke="#fff" stroke-width="0.9"/>
<path d="M1207.6 211.2L1216.6 220.3L1207.6 229.4L1198.5 220.3Z" fill="#2ca02c" fill-opacity="0.85" stroke="#fff" stroke-width="0.9"/>
<path d="M1227.9 208.7L1234.0 220.9L1221.8 220.9Z" fill="#b07aa1" fill-opacity="0.85" stroke="#fff" stroke-width="0.9"/>
<path d="M1223.3 213.3L1229.4 225.5L1217.2 225.5Z" fill="#b07aa1" fill-opacity="0.85" stroke="#fff" stroke-width="0.9"/>
<circle cx="1222.8" cy="228.6" r="6.8" fill="#2ca02c" fill-opacity="0.85" stroke="#fff" stroke-width="0.9"/>
<circle cx="1212.0" cy="245.2" r="6.8" fill="#f28e2b" fill-opacity="0.85" stroke="#fff" stroke-width="0.9"/>
<path d="M1191.7 263.4L1197.8 275.6L1185.6 275.6Z" fill="#b07aa1" fill-opacity="0.85" stroke="#fff" stroke-width="0.9"/>
<circle cx="1217.1" cy="269.8" r="6.8" fill="#17becf" fill-opacity="0.85" stroke="#fff" stroke-width="0.9"/>
<path d="M1213.3 276.2L1222.3 285.3L1213.3 294.4L1204.2 285.3Z" fill="#f28e2b" fill-opacity="0.85" stroke="#fff" stroke-width="0.9"/>
<path d="M1207.5 268.0L1213.6 280.2L1201.4 280.2Z" fill="#b07aa1" fill-opacity="0.85" stroke="#fff" stroke-width="0.9"/>
<path d="M1203.7 272.6L1209.8 284.8L1197.6 284.8Z" fill="#b07aa1" fill-opacity="0.85" stroke="#fff" stroke-width="0.9"/>
<path d="M1200.9 278.2L1207.0 290.4L1194.8 290.4Z" fill="#b07aa1" fill-opacity="0.85" stroke="#fff" stroke-width="0.9"/>
<circle cx="1188.2" cy="306.1" r="6.8" fill="#2b2b2b" fill-opacity="0.85" stroke="#fff" stroke-width="0.9"/>
<circle cx="1186.2" cy="301.5" r="6.8" fill="#17becf" fill-opacity="0.85" stroke="#fff" stroke-width="0.9"/>
<circle cx="1229.1" cy="317.3" r="6.8" fill="#f28e2b" fill-opacity="0.85" stroke="#fff" stroke-width="0.9"/>
<circle cx="1234.0" cy="335.4" r="6.8" fill="#17becf" fill-opacity="0.85" stroke="#fff" stroke-width="0.9"/>
<path d="M1515.4 167.2L1524.5 176.3L1515.4 185.4L1506.4 176.3Z" fill="#4e79a7" fill-opacity="0.85" stroke="#fff" stroke-width="0.9"/>
<path d="M1571.4 171.2L1580.5 180.3L1571.4 189.4L1562.4 180.3Z" fill="#4e79a7" fill-opacity="0.85" stroke="#fff" stroke-width="0.9"/>
<path d="M1522.5 204.9L1531.5 214.0L1522.5 223.1L1513.5 214.0Z" fill="#7e57c2" fill-opacity="0.85" stroke="#fff" stroke-width="0.9"/>
<path d="M1562.2 213.1L1571.2 222.2L1562.2 231.2L1553.2 222.2Z" fill="#7e57c2" fill-opacity="0.85" stroke="#fff" stroke-width="0.9"/>
<circle cx="1500.5" cy="242.3" r="6.8" fill="#e15759" fill-opacity="0.85" stroke="#fff" stroke-width="0.9"/>
<path d="M1510.1 228.1L1519.1 237.2L1510.1 246.2L1501.0 237.2Z" fill="#7e57c2" fill-opacity="0.85" stroke="#fff" stroke-width="0.9"/>
<path d="M1504.5 239.8L1513.5 248.9L1504.5 257.9L1495.5 248.9Z" fill="#f28e2b" fill-opacity="0.85" stroke="#fff" stroke-width="0.9"/>
<circle cx="1517.2" cy="247.4" r="6.8" fill="#8c564b" fill-opacity="0.85" stroke="#fff" stroke-width="0.9"/>
<circle cx="1521.8" cy="249.4" r="6.8" fill="#7e57c2" fill-opacity="0.85" stroke="#fff" stroke-width="0.9"/>
<circle cx="1525.9" cy="259.0" r="6.8" fill="#2ca02c" fill-opacity="0.85" stroke="#fff" stroke-width="0.9"/>
<path d="M1525.9 244.4L1535.0 253.5L1525.9 262.6L1516.9 253.5Z" fill="#2ca02c" fill-opacity="0.85" stroke="#fff" stroke-width="0.9"/>
<path d="M1559.9 226.1L1569.0 235.2L1559.9 244.2L1550.9 235.2Z" fill="#7e57c2" fill-opacity="0.85" stroke="#fff" stroke-width="0.9"/>
<path d="M1559.9 229.1L1569.0 238.2L1559.9 247.2L1550.9 238.2Z" fill="#e15759" fill-opacity="0.85" stroke="#fff" stroke-width="0.9"/>
<path d="M1573.6 227.3L1582.6 236.4L1573.6 245.5L1564.5 236.4Z" fill="#2b2b2b" fill-opacity="0.85" stroke="#fff" stroke-width="0.9"/>
<circle cx="1573.8" cy="254.8" r="6.8" fill="#f28e2b" fill-opacity="0.85" stroke="#fff" stroke-width="0.9"/>
<circle cx="1575.6" cy="264.8" r="6.8" fill="#7e57c2" fill-opacity="0.85" stroke="#fff" stroke-width="0.9"/>
<circle cx="1545.7" cy="265.8" r="6.8" fill="#2ca02c" fill-opacity="0.85" stroke="#fff" stroke-width="0.9"/>
<circle cx="1554.8" cy="263.8" r="6.8" fill="#2ca02c" fill-opacity="0.85" stroke="#fff" stroke-width="0.9"/>
<path d="M1563.4 249.3L1572.5 258.4L1563.4 267.4L1554.4 258.4Z" fill="#2ca02c" fill-opacity="0.85" stroke="#fff" stroke-width="0.9"/>
<path d="M1560.3 263.1L1566.4 275.3L1554.2 275.3Z" fill="#b07aa1" fill-opacity="0.85" stroke="#fff" stroke-width="0.9"/>
<path d="M1569.0 254.8L1578.0 263.8L1569.0 272.9L1560.0 263.8Z" fill="#2ca02c" fill-opacity="0.85" stroke="#fff" stroke-width="0.9"/>
<circle cx="1508.6" cy="270.9" r="6.8" fill="#7e57c2" fill-opacity="0.85" stroke="#fff" stroke-width="0.9"/>
<circle cx="1514.2" cy="282.5" r="6.8" fill="#2ca02c" fill-opacity="0.85" stroke="#fff" stroke-width="0.9"/>
<path d="M1503.5 287.7L1509.6 299.9L1497.4 299.9Z" fill="#b07aa1" fill-opacity="0.85" stroke="#fff" stroke-width="0.9"/>
<circle cx="1510.6" cy="297.4" r="6.8" fill="#17becf" fill-opacity="0.85" stroke="#fff" stroke-width="0.9"/>
<path d="M1507.1 296.9L1513.2 309.1L1501.0 309.1Z" fill="#b07aa1" fill-opacity="0.85" stroke="#fff" stroke-width="0.9"/>
<path d="M1521.6 288.6L1530.6 297.7L1521.6 306.8L1512.5 297.7Z" fill="#f28e2b" fill-opacity="0.85" stroke="#fff" stroke-width="0.9"/>
<path d="M1533.5 284.7L1539.6 296.9L1527.4 296.9Z" fill="#b07aa1" fill-opacity="0.85" stroke="#fff" stroke-width="0.9"/>
<path d="M1540.1 285.7L1546.2 297.9L1534.0 297.9Z" fill="#b07aa1" fill-opacity="0.85" stroke="#fff" stroke-width="0.9"/>
<path d="M1532.8 291.8L1538.9 304.0L1526.7 304.0Z" fill="#b07aa1" fill-opacity="0.85" stroke="#fff" stroke-width="0.9"/>
<circle cx="1570.6" cy="314.7" r="6.8" fill="#17becf" fill-opacity="0.85" stroke="#fff" stroke-width="0.9"/>
<circle cx="1524.9" cy="328.2" r="6.8" fill="#17becf" fill-opacity="0.85" stroke="#fff" stroke-width="0.9"/>
<circle cx="1513.2" cy="335.5" r="6.8" fill="#f28e2b" fill-opacity="0.85" stroke="#fff" stroke-width="0.9"/>
<circle cx="1567.0" cy="349.7" r="6.8" fill="#2b2b2b" fill-opacity="0.85" stroke="#fff" stroke-width="0.9"/>
<path d="M1892.6 201.8L1901.6 210.9L1892.6 220.0L1883.5 210.9Z" fill="#4e79a7" fill-opacity="0.85" stroke="#fff" stroke-width="0.9"/>
<path d="M1825.6 235.5L1834.6 244.6L1825.6 253.7L1816.5 244.6Z" fill="#4e79a7" fill-opacity="0.85" stroke="#fff" stroke-width="0.9"/>
<path d="M1860.1 248.3L1869.1 257.4L1860.1 266.4L1851.0 257.4Z" fill="#7e57c2" fill-opacity="0.85" stroke="#fff" stroke-width="0.9"/>
<path d="M1887.0 254.1L1896.0 263.2L1887.0 272.2L1878.0 263.2Z" fill="#2b2b2b" fill-opacity="0.85" stroke="#fff" stroke-width="0.9"/>
<path d="M1824.5 269.3L1833.5 278.4L1824.5 287.4L1815.5 278.4Z" fill="#7e57c2" fill-opacity="0.85" stroke="#fff" stroke-width="0.9"/>
<path d="M1844.3 274.6L1853.3 283.6L1844.3 292.7L1835.2 283.6Z" fill="#f28e2b" fill-opacity="0.85" stroke="#fff" stroke-width="0.9"/>
<path d="M1834.7 279.8L1843.8 288.9L1834.7 297.9L1825.7 288.9Z" fill="#7e57c2" fill-opacity="0.85" stroke="#fff" stroke-width="0.9"/>
<circle cx="1874.3" cy="287.7" r="6.8" fill="#f28e2b" fill-opacity="0.85" stroke="#fff" stroke-width="0.9"/>
<circle cx="1893.3" cy="294.0" r="6.8" fill="#e15759" fill-opacity="0.85" stroke="#fff" stroke-width="0.9"/>
<path d="M1884.5 281.1L1893.5 290.2L1884.5 299.2L1875.5 290.2Z" fill="#7e57c2" fill-opacity="0.85" stroke="#fff" stroke-width="0.9"/>
<circle cx="1822.5" cy="300.5" r="6.8" fill="#2ca02c" fill-opacity="0.85" stroke="#fff" stroke-width="0.9"/>
<path d="M1824.4 286.1L1833.5 295.2L1824.4 304.2L1815.4 295.2Z" fill="#e15759" fill-opacity="0.85" stroke="#fff" stroke-width="0.9"/>
<circle cx="1834.2" cy="301.5" r="6.8" fill="#2ca02c" fill-opacity="0.85" stroke="#fff" stroke-width="0.9"/>
<circle cx="1846.4" cy="301.5" r="6.8" fill="#2ca02c" fill-opacity="0.85" stroke="#fff" stroke-width="0.9"/>
<circle cx="1865.2" cy="302.5" r="6.8" fill="#7e57c2" fill-opacity="0.85" stroke="#fff" stroke-width="0.9"/>
<path d="M1855.0 298.6L1864.0 307.6L1855.0 316.7L1846.0 307.6Z" fill="#2ca02c" fill-opacity="0.85" stroke="#fff" stroke-width="0.9"/>
<path d="M1870.3 296.6L1879.3 305.6L1870.3 314.7L1861.2 305.6Z" fill="#2ca02c" fill-opacity="0.85" stroke="#fff" stroke-width="0.9"/>
<circle cx="1876.9" cy="299.5" r="6.8" fill="#2ca02c" fill-opacity="0.85" stroke="#fff" stroke-width="0.9"/>
<circle cx="1880.4" cy="310.1" r="6.8" fill="#7e57c2" fill-opacity="0.85" stroke="#fff" stroke-width="0.9"/>
<circle cx="1870.3" cy="316.7" r="6.8" fill="#7e57c2" fill-opacity="0.85" stroke="#fff" stroke-width="0.9"/>
<path d="M1874.8 304.6L1883.8 313.7L1874.8 322.8L1865.8 313.7Z" fill="#2ca02c" fill-opacity="0.85" stroke="#fff" stroke-width="0.9"/>
<circle cx="1824.0" cy="313.2" r="6.8" fill="#2ca02c" fill-opacity="0.85" stroke="#fff" stroke-width="0.9"/>
<path d="M1823.7 308.6L1832.8 317.7L1823.7 326.8L1814.7 317.7Z" fill="#2ca02c" fill-opacity="0.85" stroke="#fff" stroke-width="0.9"/>
<path d="M1856.5 310.1L1862.6 322.3L1850.4 322.3Z" fill="#b07aa1" fill-opacity="0.85" stroke="#fff" stroke-width="0.9"/>
<path d="M1888.0 319.3L1894.1 331.5L1881.9 331.5Z" fill="#b07aa1" fill-opacity="0.85" stroke="#fff" stroke-width="0.9"/>
<path d="M1840.8 324.9L1846.9 337.1L1834.7 337.1Z" fill="#b07aa1" fill-opacity="0.85" stroke="#fff" stroke-width="0.9"/>
<path d="M1821.0 332.2L1827.1 344.4L1814.9 344.4Z" fill="#b07aa1" fill-opacity="0.85" stroke="#fff" stroke-width="0.9"/>
<path d="M1876.3 332.2L1882.4 344.4L1870.2 344.4Z" fill="#b07aa1" fill-opacity="0.85" stroke="#fff" stroke-width="0.9"/>
<path d="M1867.4 337.2L1873.5 349.4L1861.3 349.4Z" fill="#b07aa1" fill-opacity="0.85" stroke="#fff" stroke-width="0.9"/>
<circle cx="1838.6" cy="346.0" r="6.8" fill="#17becf" fill-opacity="0.85" stroke="#fff" stroke-width="0.9"/>
<circle cx="1856.5" cy="348.7" r="6.8" fill="#17becf" fill-opacity="0.85" stroke="#fff" stroke-width="0.9"/>
<path d="M1881.9 343.1L1891.0 352.1L1881.9 361.2L1872.9 352.1Z" fill="#f28e2b" fill-opacity="0.85" stroke="#fff" stroke-width="0.9"/>
<circle cx="1858.6" cy="361.2" r="6.8" fill="#17becf" fill-opacity="0.85" stroke="#fff" stroke-width="0.9"/>
<circle cx="1830.8" cy="390.8" r="6.8" fill="#f28e2b" fill-opacity="0.85" stroke="#fff" stroke-width="0.9"/>
<circle cx="1864.9" cy="392.5" r="6.8" fill="#2b2b2b" fill-opacity="0.85" stroke="#fff" stroke-width="0.9"/>
<path d="M1103.0 112.0L1103.0 460.9L1976.0 460.9" fill="none" stroke="#000" stroke-width="1.7" stroke-linecap="square"/>
<line x1="1096.0" y1="454.05" x2="1103.0" y2="454.05" stroke="#000" stroke-width="1.7"/>
<text class="tk" text-anchor="end" x="1090.6" y="464.2">0</text>
<line x1="1096.0" y1="385.65" x2="1103.0" y2="385.65" stroke="#000" stroke-width="1.7"/>
<text class="tk" text-anchor="end" x="1090.6" y="395.8">20</text>
<line x1="1096.0" y1="317.25" x2="1103.0" y2="317.25" stroke="#000" stroke-width="1.7"/>
<text class="tk" text-anchor="end" x="1090.6" y="327.4">40</text>
<line x1="1096.0" y1="248.85" x2="1103.0" y2="248.85" stroke="#000" stroke-width="1.7"/>
<text class="tk" text-anchor="end" x="1090.6" y="259.0">60</text>
<line x1="1096.0" y1="180.45" x2="1103.0" y2="180.45" stroke="#000" stroke-width="1.7"/>
<text class="tk" text-anchor="end" x="1090.6" y="190.5">80</text>
<line x1="1096.0" y1="112.05" x2="1103.0" y2="112.05" stroke="#000" stroke-width="1.7"/>
<text class="tk" text-anchor="end" x="1090.6" y="122.2">100</text>
<line x1="1221.3" y1="460.9" x2="1221.3" y2="467.9" stroke="#000" stroke-width="1.7"/>
<text class="tk" text-anchor="middle" x="1222.5" y="494.5">1-Hop</text>
<line x1="1539.3" y1="460.9" x2="1539.3" y2="467.9" stroke="#000" stroke-width="1.7"/>
<text class="tk" text-anchor="middle" x="1540.5" y="494.5">2-Hop</text>
<line x1="1857.3" y1="460.9" x2="1857.3" y2="467.9" stroke="#000" stroke-width="1.7"/>
<text class="tk" text-anchor="middle" x="1858.5" y="494.5">3-Hop</text>
<line x1="1140.8" y1="227.3" x2="1302.0" y2="227.3" stroke="#000" stroke-width="2.7"/>
<text class="mv" x="1310.4" y="232.5">66.2</text>
<line x1="1458.0" y1="265.0" x2="1619.0" y2="265.0" stroke="#000" stroke-width="2.7"/>
<text class="mv" x="1627.4" y="270.2">55.2</text>
<line x1="1776.0" y1="310.0" x2="1937.0" y2="310.0" stroke="#000" stroke-width="2.7"/>
<text class="mv" x="1945.4" y="315.2">42.1</text>
<text class="an" text-anchor="middle" x="1225.4" y="141.8" fill="#4e79a7" fill-opacity="0.9">Gemini-3-Pro</text>
<text class="an" text-anchor="middle" x="1515.4" y="166.8" fill="#4e79a7" fill-opacity="0.9">Gemini-3-Pro</text>
<text class="an" text-anchor="middle" x="1892.7" y="201.3" fill="#4e79a7" fill-opacity="0.9">Gemini-3-Pro</text>
<text class="an" text-anchor="middle" x="1234.0" y="354.5" fill="#17becf" fill-opacity="0.9">Gemma-3-IT-4B</text>
<text class="an" text-anchor="middle" x="1567.0" y="369.5" fill="#2b2b2b" fill-opacity="0.9">GPT-5.2</text>
<text class="an" text-anchor="middle" x="1864.5" y="411.5" fill="#2b2b2b" fill-opacity="0.9">GPT-5.2</text>
<text class="yl" text-anchor="middle" transform="translate(1030.3 286.9) rotate(-90)">MCQ Accuracy (%)</text>
<text class="tt" text-anchor="middle" textLength="525.7" lengthAdjust="spacingAndGlyphs" x="1539.0" y="562.0">(b) Exo-centric — MCQ Accuracy</text>
<line x1="90.3" y1="947.30" x2="963.5" y2="947.30" stroke="#f1f1f1" stroke-width="2"/>
<line x1="90.3" y1="873.00" x2="963.5" y2="873.00" stroke="#f1f1f1" stroke-width="2"/>
<line x1="90.3" y1="798.70" x2="963.5" y2="798.70" stroke="#f1f1f1" stroke-width="2"/>
<line x1="90.3" y1="724.40" x2="963.5" y2="724.40" stroke="#f1f1f1" stroke-width="2"/>
<line x1="90.3" y1="650.10" x2="963.5" y2="650.10" stroke="#f1f1f1" stroke-width="2"/>
<line x1="225.0" y1="766.8" x2="490.5" y2="810.6" stroke="#e15759" stroke-opacity="0.14" stroke-width="1.5"/>
<line x1="185.0" y1="772.5" x2="512.3" y2="809.1" stroke="#7e57c2" stroke-opacity="0.14" stroke-width="1.5"/>
<line x1="203.8" y1="781.3" x2="511.1" y2="819.7" stroke="#7e57c2" stroke-opacity="0.14" stroke-width="1.5"/>
<line x1="194.5" y1="789.5" x2="496.4" y2="828.4" stroke="#7e57c2" stroke-opacity="0.14" stroke-width="1.5"/>
<line x1="243.8" y1="792.5" x2="562.8" y2="834.5" stroke="#7e57c2" stroke-opacity="0.14" stroke-width="1.5"/>
<line x1="234.8" y1="944.4" x2="504.9" y2="944.9" stroke="#8c564b" stroke-opacity="0.14" stroke-width="1.5"/>
<line x1="198.8" y1="775.8" x2="550.2" y2="803.8" stroke="#7e57c2" stroke-opacity="0.14" stroke-width="1.5"/>
<line x1="182.0" y1="778.0" x2="510.5" y2="812.6" stroke="#7e57c2" stroke-opacity="0.14" stroke-width="1.5"/>
<line x1="198.8" y1="824.3" x2="547.6" y2="858.5" stroke="#7e57c2" stroke-opacity="0.14" stroke-width="1.5"/>
<line x1="246.6" y1="826.3" x2="497.8" y2="859.1" stroke="#7e57c2" stroke-opacity="0.14" stroke-width="1.5"/>
<line x1="226.5" y1="773.8" x2="547.9" y2="833.3" stroke="#e15759" stroke-opacity="0.14" stroke-width="1.5"/>
<line x1="214.1" y1="822.0" x2="547.6" y2="848.1" stroke="#b07aa1" stroke-opacity="0.14" stroke-width="1.5"/>
<line x1="190.6" y1="905.4" x2="520.2" y2="916.5" stroke="#b07aa1" stroke-opacity="0.14" stroke-width="1.5"/>
<line x1="179.5" y1="915.3" x2="491.1" y2="918.5" stroke="#b07aa1" stroke-opacity="0.14" stroke-width="1.5"/>
<line x1="188.9" y1="923.2" x2="494.9" y2="926.5" stroke="#b07aa1" stroke-opacity="0.14" stroke-width="1.5"/>
<line x1="195.3" y1="946.1" x2="527.7" y2="947.2" stroke="#b07aa1" stroke-opacity="0.14" stroke-width="1.5"/>
<line x1="211.1" y1="948.2" x2="521.2" y2="947.8" stroke="#b07aa1" stroke-opacity="0.14" stroke-width="1.5"/>
<line x1="176.2" y1="947.8" x2="554.8" y2="947.0" stroke="#2b2b2b" stroke-opacity="0.14" stroke-width="1.5"/>
<line x1="204.4" y1="945.3" x2="558.1" y2="944.6" stroke="#17becf" stroke-opacity="0.14" stroke-width="1.5"/>
<line x1="221.9" y1="945.3" x2="498.2" y2="946.4" stroke="#17becf" stroke-opacity="0.14" stroke-width="1.5"/>
<line x1="173.9" y1="946.3" x2="512.5" y2="946.4" stroke="#17becf" stroke-opacity="0.14" stroke-width="1.5"/>
<line x1="185.3" y1="908.7" x2="488.9" y2="926.0" stroke="#f28e2b" stroke-opacity="0.14" stroke-width="1.5"/>
<line x1="200.7" y1="918.7" x2="506.4" y2="927.4" stroke="#f28e2b" stroke-opacity="0.14" stroke-width="1.5"/>
<line x1="230.3" y1="853.8" x2="560.4" y2="890.6" stroke="#2b2b2b" stroke-opacity="0.14" stroke-width="1.5"/>
<line x1="199.0" y1="922.4" x2="561.5" y2="932.0" stroke="#f28e2b" stroke-opacity="0.14" stroke-width="1.5"/>
<line x1="217.7" y1="947.3" x2="500.7" y2="949.0" stroke="#f28e2b" stroke-opacity="0.14" stroke-width="1.5"/>
<line x1="180.3" y1="864.5" x2="543.3" y2="879.1" stroke="#2ca02c" stroke-opacity="0.14" stroke-width="1.5"/>
<line x1="217.5" y1="913.3" x2="511.4" y2="913.7" stroke="#2ca02c" stroke-opacity="0.14" stroke-width="1.5"/>
<line x1="209.9" y1="921.1" x2="534.1" y2="913.7" stroke="#2ca02c" stroke-opacity="0.14" stroke-width="1.5"/>
<line x1="180.8" y1="923.2" x2="502.1" y2="917.6" stroke="#2ca02c" stroke-opacity="0.14" stroke-width="1.5"/>
<line x1="205.7" y1="923.2" x2="548.9" y2="926.5" stroke="#2ca02c" stroke-opacity="0.14" stroke-width="1.5"/>
<line x1="171.5" y1="793.8" x2="549.9" y2="833.5" stroke="#2ca02c" stroke-opacity="0.14" stroke-width="1.5"/>
<line x1="218.6" y1="921.1" x2="556.6" y2="905.8" stroke="#2ca02c" stroke-opacity="0.14" stroke-width="1.5"/>
<line x1="194.9" y1="936.4" x2="513.6" y2="934.2" stroke="#2ca02c" stroke-opacity="0.14" stroke-width="1.5"/>
<line x1="490.5" y1="810.6" x2="880.6" y2="856.2" stroke="#e15759" stroke-opacity="0.14" stroke-width="1.5"/>
<line x1="512.3" y1="809.1" x2="846.5" y2="856.0" stroke="#7e57c2" stroke-opacity="0.14" stroke-width="1.5"/>
<line x1="496.4" y1="828.4" x2="853.1" y2="875.3" stroke="#7e57c2" stroke-opacity="0.14" stroke-width="1.5"/>
<line x1="562.8" y1="834.5" x2="867.4" y2="884.5" stroke="#7e57c2" stroke-opacity="0.14" stroke-width="1.5"/>
<line x1="504.9" y1="944.9" x2="819.1" y2="945.7" stroke="#8c564b" stroke-opacity="0.14" stroke-width="1.5"/>
<line x1="550.2" y1="803.8" x2="848.1" y2="851.5" stroke="#7e57c2" stroke-opacity="0.14" stroke-width="1.5"/>
<line x1="510.5" y1="812.6" x2="812.3" y2="853.2" stroke="#7e57c2" stroke-opacity="0.14" stroke-width="1.5"/>
<line x1="547.6" y1="858.5" x2="821.6" y2="878.9" stroke="#7e57c2" stroke-opacity="0.14" stroke-width="1.5"/>
<line x1="497.8" y1="859.1" x2="874.0" y2="879.4" stroke="#7e57c2" stroke-opacity="0.14" stroke-width="1.5"/>
<line x1="547.9" y1="833.3" x2="812.3" y2="868.2" stroke="#e15759" stroke-opacity="0.14" stroke-width="1.5"/>
<line x1="547.6" y1="848.1" x2="844.2" y2="870.3" stroke="#b07aa1" stroke-opacity="0.14" stroke-width="1.5"/>
<line x1="520.2" y1="916.5" x2="864.4" y2="897.6" stroke="#b07aa1" stroke-opacity="0.14" stroke-width="1.5"/>
<line x1="491.1" y1="918.5" x2="855.2" y2="918.7" stroke="#b07aa1" stroke-opacity="0.14" stroke-width="1.5"/>
<line x1="494.9" y1="926.5" x2="828.6" y2="926.1" stroke="#b07aa1" stroke-opacity="0.14" stroke-width="1.5"/>
<line x1="527.7" y1="947.2" x2="876.0" y2="944.4" stroke="#b07aa1" stroke-opacity="0.14" stroke-width="1.5"/>
<line x1="521.2" y1="947.8" x2="808.7" y2="948.6" stroke="#b07aa1" stroke-opacity="0.14" stroke-width="1.5"/>
<line x1="558.1" y1="944.6" x2="826.1" y2="945.7" stroke="#17becf" stroke-opacity="0.14" stroke-width="1.5"/>
<line x1="498.2" y1="946.4" x2="844.0" y2="946.5" stroke="#17becf" stroke-opacity="0.14" stroke-width="1.5"/>
<line x1="512.5" y1="946.4" x2="846.1" y2="947.3" stroke="#17becf" stroke-opacity="0.14" stroke-width="1.5"/>
<line x1="554.8" y1="947.0" x2="854.0" y2="942.3" stroke="#2b2b2b" stroke-opacity="0.14" stroke-width="1.5"/>
<line x1="488.9" y1="926.0" x2="831.5" y2="920.7" stroke="#f28e2b" stroke-opacity="0.14" stroke-width="1.5"/>
<line x1="506.4" y1="927.4" x2="870.2" y2="932.8" stroke="#f28e2b" stroke-opacity="0.14" stroke-width="1.5"/>
<line x1="560.4" y1="890.6" x2="877.0" y2="883.0" stroke="#2b2b2b" stroke-opacity="0.14" stroke-width="1.5"/>
<line x1="561.5" y1="932.0" x2="861.9" y2="930.7" stroke="#f28e2b" stroke-opacity="0.14" stroke-width="1.5"/>
<line x1="500.7" y1="949.0" x2="814.9" y2="945.7" stroke="#f28e2b" stroke-opacity="0.14" stroke-width="1.5"/>
<line x1="543.3" y1="879.1" x2="864.8" y2="879.9" stroke="#2ca02c" stroke-opacity="0.14" stroke-width="1.5"/>
<line x1="511.4" y1="913.7" x2="810.8" y2="924.9" stroke="#2ca02c" stroke-opacity="0.14" stroke-width="1.5"/>
<line x1="502.1" y1="917.6" x2="836.5" y2="925.3" stroke="#2ca02c" stroke-opacity="0.14" stroke-width="1.5"/>
<line x1="548.9" y1="926.5" x2="820.7" y2="927.4" stroke="#2ca02c" stroke-opacity="0.14" stroke-width="1.5"/>
<line x1="549.9" y1="833.5" x2="860.8" y2="866.0" stroke="#2ca02c" stroke-opacity="0.14" stroke-width="1.5"/>
<line x1="556.6" y1="905.8" x2="811.6" y2="937.4" stroke="#2ca02c" stroke-opacity="0.14" stroke-width="1.5"/>
<line x1="513.6" y1="934.2" x2="862.3" y2="938.2" stroke="#2ca02c" stroke-opacity="0.14" stroke-width="1.5"/>
<line x1="213.0" y1="642.5" x2="503.2" y2="794.9" stroke="#4e79a7" stroke-opacity="0.14" stroke-width="1.5"/>
<line x1="503.2" y1="794.9" x2="880.6" y2="807.8" stroke="#4e79a7" stroke-opacity="0.14" stroke-width="1.5"/>
<line x1="216.5" y1="658.3" x2="559.3" y2="759.3" stroke="#4e79a7" stroke-opacity="0.14" stroke-width="1.5"/>
<line x1="559.3" y1="759.3" x2="813.3" y2="915.3" stroke="#4e79a7" stroke-opacity="0.14" stroke-width="1.5"/>
<path d="M213.0 633.5L222.1 642.5L213.0 651.5L203.9 642.5Z" fill="#4e79a7" fill-opacity="0.85" stroke="#fff" stroke-width="0.9"/>
<path d="M216.5 649.2L225.6 658.3L216.5 667.3L207.4 658.3Z" fill="#4e79a7" fill-opacity="0.85" stroke="#fff" stroke-width="0.9"/>
<circle cx="225.0" cy="766.8" r="6.8" fill="#e15759" fill-opacity="0.85" stroke="#fff" stroke-width="0.9"/>
<path d="M226.5 764.8L235.6 773.8L226.5 782.8L217.4 773.8Z" fill="#e15759" fill-opacity="0.85" stroke="#fff" stroke-width="0.9"/>
<circle cx="185.0" cy="772.5" r="6.8" fill="#7e57c2" fill-opacity="0.85" stroke="#fff" stroke-width="0.9"/>
<path d="M182.0 769.0L191.1 778.0L182.0 787.0L172.9 778.0Z" fill="#7e57c2" fill-opacity="0.85" stroke="#fff" stroke-width="0.9"/>
<circle cx="203.8" cy="781.3" r="6.8" fill="#7e57c2" fill-opacity="0.85" stroke="#fff" stroke-width="0.9"/>
<path d="M198.8 766.8L207.9 775.8L198.8 784.8L189.8 775.8Z" fill="#7e57c2" fill-opacity="0.85" stroke="#fff" stroke-width="0.9"/>
<circle cx="194.5" cy="789.5" r="6.8" fill="#7e57c2" fill-opacity="0.85" stroke="#fff" stroke-width="0.9"/>
<circle cx="243.8" cy="792.5" r="6.8" fill="#7e57c2" fill-opacity="0.85" stroke="#fff" stroke-width="0.9"/>
<path d="M171.5 784.8L180.6 793.8L171.5 802.8L162.4 793.8Z" fill="#2ca02c" fill-opacity="0.85" stroke="#fff" stroke-width="0.9"/>
<path d="M198.8 815.2L207.9 824.3L198.8 833.3L189.8 824.3Z" fill="#7e57c2" fill-opacity="0.85" stroke="#fff" stroke-width="0.9"/>
<path d="M214.1 815.9L220.2 828.1L208.0 828.1Z" fill="#b07aa1" fill-opacity="0.85" stroke="#fff" stroke-width="0.9"/>
<path d="M246.6 817.2L255.7 826.3L246.6 835.3L237.5 826.3Z" fill="#7e57c2" fill-opacity="0.85" stroke="#fff" stroke-width="0.9"/>
<path d="M230.3 844.8L239.4 853.8L230.3 862.8L221.2 853.8Z" fill="#2b2b2b" fill-opacity="0.85" stroke="#fff" stroke-width="0.9"/>
<circle cx="180.3" cy="864.5" r="6.8" fill="#2ca02c" fill-opacity="0.85" stroke="#fff" stroke-width="0.9"/>
<path d="M219.8 890.7L228.9 899.7L219.8 908.8L210.8 899.7Z" fill="#2ca02c" fill-opacity="0.85" stroke="#fff" stroke-width="0.9"/>
<path d="M185.3 899.7L194.4 908.7L185.3 917.8L176.2 908.7Z" fill="#f28e2b" fill-opacity="0.85" stroke="#fff" stroke-width="0.9"/>
<path d="M190.6 899.3L196.7 911.5L184.5 911.5Z" fill="#b07aa1" fill-opacity="0.85" stroke="#fff" stroke-width="0.9"/>
<circle cx="217.5" cy="913.3" r="6.8" fill="#2ca02c" fill-opacity="0.85" stroke="#fff" stroke-width="0.9"/>
<circle cx="180.8" cy="923.2" r="6.8" fill="#2ca02c" fill-opacity="0.85" stroke="#fff" stroke-width="0.9"/>
<path d="M179.5 909.2L185.6 921.4L173.4 921.4Z" fill="#b07aa1" fill-opacity="0.85" stroke="#fff" stroke-width="0.9"/>
<circle cx="199.0" cy="922.4" r="6.8" fill="#f28e2b" fill-opacity="0.85" stroke="#fff" stroke-width="0.9"/>
<circle cx="205.7" cy="923.2" r="6.8" fill="#2ca02c" fill-opacity="0.85" stroke="#fff" stroke-width="0.9"/>
<circle cx="209.9" cy="921.1" r="6.8" fill="#2ca02c" fill-opacity="0.85" stroke="#fff" stroke-width="0.9"/>
<path d="M218.6 912.1L227.7 921.1L218.6 930.1L209.5 921.1Z" fill="#2ca02c" fill-opacity="0.85" stroke="#fff" stroke-width="0.9"/>
<path d="M200.7 909.7L209.8 918.7L200.7 927.8L191.6 918.7Z" fill="#f28e2b" fill-opacity="0.85" stroke="#fff" stroke-width="0.9"/>
<path d="M188.9 917.1L195.0 929.3L182.8 929.3Z" fill="#b07aa1" fill-opacity="0.85" stroke="#fff" stroke-width="0.9"/>
<path d="M194.9 927.4L204.0 936.4L194.9 945.4L185.8 936.4Z" fill="#2ca02c" fill-opacity="0.85" stroke="#fff" stroke-width="0.9"/>
<circle cx="176.2" cy="947.8" r="6.8" fill="#2b2b2b" fill-opacity="0.85" stroke="#fff" stroke-width="0.9"/>
<circle cx="173.9" cy="946.3" r="6.8" fill="#17becf" fill-opacity="0.85" stroke="#fff" stroke-width="0.9"/>
<circle cx="217.7" cy="947.3" r="6.8" fill="#f28e2b" fill-opacity="0.85" stroke="#fff" stroke-width="0.9"/>
<circle cx="204.4" cy="945.3" r="6.8" fill="#17becf" fill-opacity="0.85" stroke="#fff" stroke-width="0.9"/>
<path d="M195.3 940.0L201.4 952.2L189.2 952.2Z" fill="#b07aa1" fill-opacity="0.85" stroke="#fff" stroke-width="0.9"/>
<circle cx="221.9" cy="945.3" r="6.8" fill="#17becf" fill-opacity="0.85" stroke="#fff" stroke-width="0.9"/>
<path d="M211.1 942.1L217.2 954.3L205.0 954.3Z" fill="#b07aa1" fill-opacity="0.85" stroke="#fff" stroke-width="0.9"/>
<circle cx="234.8" cy="944.4" r="6.8" fill="#8c564b" fill-opacity="0.85" stroke="#fff" stroke-width="0.9"/>
<path d="M559.3 750.2L568.3 759.3L559.3 768.3L550.2 759.3Z" fill="#4e79a7" fill-opacity="0.85" stroke="#fff" stroke-width="0.9"/>
<path d="M503.2 785.9L512.2 794.9L503.2 803.9L494.1 794.9Z" fill="#4e79a7" fill-opacity="0.85" stroke="#fff" stroke-width="0.9"/>
<path d="M550.2 794.8L559.2 803.8L550.2 812.8L541.2 803.8Z" fill="#7e57c2" fill-opacity="0.85" stroke="#fff" stroke-width="0.9"/>
<circle cx="490.5" cy="810.6" r="6.8" fill="#e15759" fill-opacity="0.85" stroke="#fff" stroke-width="0.9"/>
<circle cx="512.3" cy="809.1" r="6.8" fill="#7e57c2" fill-opacity="0.85" stroke="#fff" stroke-width="0.9"/>
<circle cx="511.1" cy="819.7" r="6.8" fill="#7e57c2" fill-opacity="0.85" stroke="#fff" stroke-width="0.9"/>
<path d="M510.5 803.6L519.5 812.6L510.5 821.6L501.4 812.6Z" fill="#7e57c2" fill-opacity="0.85" stroke="#fff" stroke-width="0.9"/>
<circle cx="496.4" cy="828.4" r="6.8" fill="#7e57c2" fill-opacity="0.85" stroke="#fff" stroke-width="0.9"/>
<path d="M549.9 824.5L558.9 833.5L549.9 842.5L540.9 833.5Z" fill="#2ca02c" fill-opacity="0.85" stroke="#fff" stroke-width="0.9"/>
<path d="M547.9 824.2L556.9 833.3L547.9 842.3L538.9 833.3Z" fill="#e15759" fill-opacity="0.85" stroke="#fff" stroke-width="0.9"/>
<circle cx="562.8" cy="834.5" r="6.8" fill="#7e57c2" fill-opacity="0.85" stroke="#fff" stroke-width="0.9"/>
<path d="M547.6 849.5L556.6 858.5L547.6 867.5L538.6 858.5Z" fill="#7e57c2" fill-opacity="0.85" stroke="#fff" stroke-width="0.9"/>
<path d="M547.6 842.0L553.7 854.2L541.5 854.2Z" fill="#b07aa1" fill-opacity="0.85" stroke="#fff" stroke-width="0.9"/>
<path d="M497.8 850.1L506.9 859.1L497.8 868.1L488.8 859.1Z" fill="#7e57c2" fill-opacity="0.85" stroke="#fff" stroke-width="0.9"/>
<circle cx="543.3" cy="879.1" r="6.8" fill="#2ca02c" fill-opacity="0.85" stroke="#fff" stroke-width="0.9"/>
<path d="M560.4 881.6L569.4 890.6L560.4 899.6L551.4 890.6Z" fill="#2b2b2b" fill-opacity="0.85" stroke="#fff" stroke-width="0.9"/>
<path d="M556.6 896.8L565.6 905.8L556.6 914.8L547.6 905.8Z" fill="#2ca02c" fill-opacity="0.85" stroke="#fff" stroke-width="0.9"/>
<circle cx="511.4" cy="913.7" r="6.8" fill="#2ca02c" fill-opacity="0.85" stroke="#fff" stroke-width="0.9"/>
<circle cx="502.1" cy="917.6" r="6.8" fill="#2ca02c" fill-opacity="0.85" stroke="#fff" stroke-width="0.9"/>
<circle cx="534.1" cy="913.7" r="6.8" fill="#2ca02c" fill-opacity="0.85" stroke="#fff" stroke-width="0.9"/>
<path d="M520.2 910.4L526.3 922.6L514.1 922.6Z" fill="#b07aa1" fill-opacity="0.85" stroke="#fff" stroke-width="0.9"/>
<path d="M488.9 917.0L497.9 926.0L488.9 935.0L479.8 926.0Z" fill="#f28e2b" fill-opacity="0.85" stroke="#fff" stroke-width="0.9"/>
<path d="M491.1 912.4L497.2 924.6L485.0 924.6Z" fill="#b07aa1" fill-opacity="0.85" stroke="#fff" stroke-width="0.9"/>
<path d="M494.9 920.4L501.0 932.6L488.8 932.6Z" fill="#b07aa1" fill-opacity="0.85" stroke="#fff" stroke-width="0.9"/>
<path d="M506.4 918.4L515.4 927.4L506.4 936.4L497.3 927.4Z" fill="#f28e2b" fill-opacity="0.85" stroke="#fff" stroke-width="0.9"/>
<circle cx="548.9" cy="926.5" r="6.8" fill="#2ca02c" fill-opacity="0.85" stroke="#fff" stroke-width="0.9"/>
<path d="M513.6 925.2L522.6 934.2L513.6 943.2L504.6 934.2Z" fill="#2ca02c" fill-opacity="0.85" stroke="#fff" stroke-width="0.9"/>
<circle cx="561.5" cy="932.0" r="6.8" fill="#f28e2b" fill-opacity="0.85" stroke="#fff" stroke-width="0.9"/>
<circle cx="500.7" cy="949.0" r="6.8" fill="#f28e2b" fill-opacity="0.85" stroke="#fff" stroke-width="0.9"/>
<circle cx="504.9" cy="944.9" r="6.8" fill="#8c564b" fill-opacity="0.85" stroke="#fff" stroke-width="0.9"/>
<circle cx="498.2" cy="946.4" r="6.8" fill="#17becf" fill-opacity="0.85" stroke="#fff" stroke-width="0.9"/>
<circle cx="512.5" cy="946.4" r="6.8" fill="#17becf" fill-opacity="0.85" stroke="#fff" stroke-width="0.9"/>
<path d="M521.2 941.7L527.3 953.9L515.1 953.9Z" fill="#b07aa1" fill-opacity="0.85" stroke="#fff" stroke-width="0.9"/>
<path d="M527.7 941.1L533.8 953.3L521.6 953.3Z" fill="#b07aa1" fill-opacity="0.85" stroke="#fff" stroke-width="0.9"/>
<circle cx="554.8" cy="947.0" r="6.8" fill="#2b2b2b" fill-opacity="0.85" stroke="#fff" stroke-width="0.9"/>
<circle cx="558.1" cy="944.6" r="6.8" fill="#17becf" fill-opacity="0.85" stroke="#fff" stroke-width="0.9"/>
<path d="M880.6 798.8L889.6 807.8L880.6 816.8L871.6 807.8Z" fill="#4e79a7" fill-opacity="0.85" stroke="#fff" stroke-width="0.9"/>
<path d="M812.3 844.2L821.3 853.2L812.3 862.2L803.2 853.2Z" fill="#7e57c2" fill-opacity="0.85" stroke="#fff" stroke-width="0.9"/>
<circle cx="846.5" cy="856.0" r="6.8" fill="#7e57c2" fill-opacity="0.85" stroke="#fff" stroke-width="0.9"/>
<path d="M848.1 842.5L857.1 851.5L848.1 860.5L839.1 851.5Z" fill="#7e57c2" fill-opacity="0.85" stroke="#fff" stroke-width="0.9"/>
<circle cx="880.6" cy="856.2" r="6.8" fill="#e15759" fill-opacity="0.85" stroke="#fff" stroke-width="0.9"/>
<path d="M812.3 859.2L821.3 868.2L812.3 877.2L803.2 868.2Z" fill="#e15759" fill-opacity="0.85" stroke="#fff" stroke-width="0.9"/>
<path d="M844.2 864.2L850.3 876.4L838.1 876.4Z" fill="#b07aa1" fill-opacity="0.85" stroke="#fff" stroke-width="0.9"/>
<circle cx="853.1" cy="875.3" r="6.8" fill="#7e57c2" fill-opacity="0.85" stroke="#fff" stroke-width="0.9"/>
<path d="M860.8 857.0L869.8 866.0L860.8 875.0L851.8 866.0Z" fill="#2ca02c" fill-opacity="0.85" stroke="#fff" stroke-width="0.9"/>
<path d="M821.6 869.9L830.6 878.9L821.6 887.9L812.6 878.9Z" fill="#7e57c2" fill-opacity="0.85" stroke="#fff" stroke-width="0.9"/>
<path d="M877.0 874.0L886.0 883.0L877.0 892.0L868.0 883.0Z" fill="#2b2b2b" fill-opacity="0.85" stroke="#fff" stroke-width="0.9"/>
<circle cx="867.4" cy="884.5" r="6.8" fill="#7e57c2" fill-opacity="0.85" stroke="#fff" stroke-width="0.9"/>
<path d="M874.0 870.4L883.0 879.4L874.0 888.4L865.0 879.4Z" fill="#7e57c2" fill-opacity="0.85" stroke="#fff" stroke-width="0.9"/>
<circle cx="864.8" cy="879.9" r="6.8" fill="#2ca02c" fill-opacity="0.85" stroke="#fff" stroke-width="0.9"/>
<path d="M864.4 891.5L870.5 903.7L858.3 903.7Z" fill="#b07aa1" fill-opacity="0.85" stroke="#fff" stroke-width="0.9"/>
<circle cx="810.8" cy="924.9" r="6.8" fill="#2ca02c" fill-opacity="0.85" stroke="#fff" stroke-width="0.9"/>
<circle cx="820.7" cy="927.4" r="6.8" fill="#2ca02c" fill-opacity="0.85" stroke="#fff" stroke-width="0.9"/>
<circle cx="836.5" cy="925.3" r="6.8" fill="#2ca02c" fill-opacity="0.85" stroke="#fff" stroke-width="0.9"/>
<path d="M813.3 906.2L822.3 915.3L813.3 924.3L804.2 915.3Z" fill="#4e79a7" fill-opacity="0.85" stroke="#fff" stroke-width="0.9"/>
<path d="M842.8 904.2L851.8 913.3L842.8 922.3L833.8 913.3Z" fill="#2ca02c" fill-opacity="0.85" stroke="#fff" stroke-width="0.9"/>
<path d="M831.5 911.7L840.5 920.7L831.5 929.8L822.5 920.7Z" fill="#f28e2b" fill-opacity="0.85" stroke="#fff" stroke-width="0.9"/>
<path d="M828.6 920.0L834.7 932.2L822.5 932.2Z" fill="#b07aa1" fill-opacity="0.85" stroke="#fff" stroke-width="0.9"/>
<path d="M855.2 912.6L861.3 924.8L849.1 924.8Z" fill="#b07aa1" fill-opacity="0.85" stroke="#fff" stroke-width="0.9"/>
<circle cx="861.9" cy="930.7" r="6.8" fill="#f28e2b" fill-opacity="0.85" stroke="#fff" stroke-width="0.9"/>
<path d="M870.2 923.8L879.2 932.8L870.2 941.8L861.2 932.8Z" fill="#f28e2b" fill-opacity="0.85" stroke="#fff" stroke-width="0.9"/>
<path d="M811.6 928.4L820.6 937.4L811.6 946.4L802.6 937.4Z" fill="#2ca02c" fill-opacity="0.85" stroke="#fff" stroke-width="0.9"/>
<circle cx="854.0" cy="942.3" r="6.8" fill="#2b2b2b" fill-opacity="0.85" stroke="#fff" stroke-width="0.9"/>
<path d="M862.3 929.2L871.3 938.2L862.3 947.2L853.2 938.2Z" fill="#2ca02c" fill-opacity="0.85" stroke="#fff" stroke-width="0.9"/>
<circle cx="814.9" cy="945.7" r="6.8" fill="#f28e2b" fill-opacity="0.85" stroke="#fff" stroke-width="0.9"/>
<circle cx="819.1" cy="945.7" r="6.8" fill="#8c564b" fill-opacity="0.85" stroke="#fff" stroke-width="0.9"/>
<circle cx="826.1" cy="945.7" r="6.8" fill="#17becf" fill-opacity="0.85" stroke="#fff" stroke-width="0.9"/>
<circle cx="844.0" cy="946.5" r="6.8" fill="#17becf" fill-opacity="0.85" stroke="#fff" stroke-width="0.9"/>
<circle cx="846.1" cy="947.3" r="6.8" fill="#17becf" fill-opacity="0.85" stroke="#fff" stroke-width="0.9"/>
<path d="M808.7 942.5L814.8 954.7L802.6 954.7Z" fill="#b07aa1" fill-opacity="0.85" stroke="#fff" stroke-width="0.9"/>
<path d="M876.0 938.3L882.1 950.5L869.9 950.5Z" fill="#b07aa1" fill-opacity="0.85" stroke="#fff" stroke-width="0.9"/>
<path d="M90.3 612.5L90.3 962.4L963.5 962.4" fill="none" stroke="#000" stroke-width="1.7" stroke-linecap="square"/>
<line x1="83.3" y1="947.30" x2="90.3" y2="947.30" stroke="#000" stroke-width="1.7"/>
<text class="tk" text-anchor="end" x="77.9" y="957.4">0</text>
<line x1="83.3" y1="873.00" x2="90.3" y2="873.00" stroke="#000" stroke-width="1.7"/>
<text class="tk" text-anchor="end" x="77.9" y="883.1">10</text>
<line x1="83.3" y1="798.70" x2="90.3" y2="798.70" stroke="#000" stroke-width="1.7"/>
<text class="tk" text-anchor="end" x="77.9" y="808.8">20</text>
<line x1="83.3" y1="724.40" x2="90.3" y2="724.40" stroke="#000" stroke-width="1.7"/>
<text class="tk" text-anchor="end" x="77.9" y="734.5">30</text>
<line x1="83.3" y1="650.10" x2="90.3" y2="650.10" stroke="#000" stroke-width="1.7"/>
<text class="tk" text-anchor="end" x="77.9" y="660.2">40</text>
<line x1="209.3" y1="962.4" x2="209.3" y2="969.4" stroke="#000" stroke-width="1.7"/>
<text class="tk" text-anchor="middle" x="210.5" y="996.0">1-Hop</text>
<line x1="527.3" y1="962.4" x2="527.3" y2="969.4" stroke="#000" stroke-width="1.7"/>
<text class="tk" text-anchor="middle" x="528.5" y="996.0">2-Hop</text>
<line x1="845.3" y1="962.4" x2="845.3" y2="969.4" stroke="#000" stroke-width="1.7"/>
<text class="tk" text-anchor="middle" x="846.5" y="996.0">3-Hop</text>
<line x1="128.8" y1="865.0" x2="290.0" y2="865.0" stroke="#000" stroke-width="2.7"/>
<text class="mv" x="298.4" y="870.2">11.1</text>
<line x1="446.0" y1="887.0" x2="607.0" y2="887.0" stroke="#000" stroke-width="2.7"/>
<text class="mv" x="615.4" y="892.2">8.1</text>
<line x1="764.0" y1="904.0" x2="925.0" y2="904.0" stroke="#000" stroke-width="2.7"/>
<text class="mv" x="933.4" y="909.2">5.8</text>
<text class="an" text-anchor="middle" x="213.2" y="626.6" fill="#4e79a7" fill-opacity="0.9">Gemini-3-Pro</text>
<text class="an" text-anchor="middle" x="559.3" y="744.0" fill="#4e79a7" fill-opacity="0.9">Gemini-3-Flash</text>
<text class="an" text-anchor="middle" x="880.6" y="792.6" fill="#4e79a7" fill-opacity="0.9">Gemini-3-Pro</text>
<text class="an" text-anchor="middle" x="321.5" y="942.2" fill="#f28e2b" fill-opacity="0.9">Claude-Sonnet-4.5</text>
<text class="an" text-anchor="middle" x="606.0" y="942.0" fill="#f28e2b" fill-opacity="0.9">Claude-Sonnet-4.5</text>
<text class="an" text-anchor="middle" x="876.5" y="942.0" fill="#17becf" fill-opacity="0.9">Gemma-3-IT-4B</text>
<text class="yl" text-anchor="middle" textLength="221.0" lengthAdjust="spacingAndGlyphs" transform="translate(35.3 786.8) rotate(-90)">Acc@50IoU (%)</text>
<text class="tt" text-anchor="middle" textLength="465.3" lengthAdjust="spacingAndGlyphs" x="527.5" y="1064.0">(c) Ego-centric — Acc@50IoU</text>
<line x1="1103.0" y1="953.00" x2="1976.0" y2="953.00" stroke="#f1f1f1" stroke-width="2"/>
<line x1="1103.0" y1="862.34" x2="1976.0" y2="862.34" stroke="#f1f1f1" stroke-width="2"/>
<line x1="1103.0" y1="771.68" x2="1976.0" y2="771.68" stroke="#f1f1f1" stroke-width="2"/>
<line x1="1103.0" y1="681.02" x2="1976.0" y2="681.02" stroke="#f1f1f1" stroke-width="2"/>
<line x1="1225.5" y1="670.5" x2="1571.3" y2="664.1" stroke="#4e79a7" stroke-opacity="0.14" stroke-width="1.5"/>
<line x1="1228.6" y1="671.3" x2="1515.2" y2="701.3" stroke="#4e79a7" stroke-opacity="0.14" stroke-width="1.5"/>
<line x1="1197.4" y1="661.1" x2="1523.5" y2="712.4" stroke="#7e57c2" stroke-opacity="0.14" stroke-width="1.5"/>
<line x1="1216.2" y1="673.5" x2="1524.1" y2="713.9" stroke="#7e57c2" stroke-opacity="0.14" stroke-width="1.5"/>
<line x1="1255.8" y1="690.1" x2="1574.7" y2="730.7" stroke="#7e57c2" stroke-opacity="0.14" stroke-width="1.5"/>
<line x1="1206.7" y1="693.6" x2="1508.6" y2="740.3" stroke="#7e57c2" stroke-opacity="0.14" stroke-width="1.5"/>
<line x1="1237.7" y1="663.9" x2="1502.5" y2="711.6" stroke="#e15759" stroke-opacity="0.14" stroke-width="1.5"/>
<line x1="1247.2" y1="951.5" x2="1516.5" y2="952.6" stroke="#8c564b" stroke-opacity="0.14" stroke-width="1.5"/>
<line x1="1239.0" y1="669.0" x2="1560.0" y2="698.5" stroke="#e15759" stroke-opacity="0.14" stroke-width="1.5"/>
<line x1="1210.8" y1="666.6" x2="1522.6" y2="681.1" stroke="#7e57c2" stroke-opacity="0.14" stroke-width="1.5"/>
<line x1="1194.2" y1="672.5" x2="1562.5" y2="687.0" stroke="#7e57c2" stroke-opacity="0.14" stroke-width="1.5"/>
<line x1="1210.8" y1="721.0" x2="1509.9" y2="719.2" stroke="#7e57c2" stroke-opacity="0.14" stroke-width="1.5"/>
<line x1="1258.5" y1="729.9" x2="1560.0" y2="723.2" stroke="#7e57c2" stroke-opacity="0.14" stroke-width="1.5"/>
<line x1="1226.2" y1="722.8" x2="1559.8" y2="757.4" stroke="#b07aa1" stroke-opacity="0.14" stroke-width="1.5"/>
<line x1="1191.5" y1="885.3" x2="1503.5" y2="849.9" stroke="#b07aa1" stroke-opacity="0.14" stroke-width="1.5"/>
<line x1="1202.5" y1="903.4" x2="1532.3" y2="891.7" stroke="#b07aa1" stroke-opacity="0.14" stroke-width="1.5"/>
<line x1="1200.6" y1="934.8" x2="1506.9" y2="924.5" stroke="#b07aa1" stroke-opacity="0.14" stroke-width="1.5"/>
<line x1="1207.3" y1="952.1" x2="1539.9" y2="952.1" stroke="#b07aa1" stroke-opacity="0.14" stroke-width="1.5"/>
<line x1="1223.2" y1="954.0" x2="1533.5" y2="954.0" stroke="#b07aa1" stroke-opacity="0.14" stroke-width="1.5"/>
<line x1="1189.5" y1="951.8" x2="1566.9" y2="926.4" stroke="#2b2b2b" stroke-opacity="0.14" stroke-width="1.5"/>
<line x1="1186.3" y1="950.8" x2="1510.2" y2="948.4" stroke="#17becf" stroke-opacity="0.14" stroke-width="1.5"/>
<line x1="1216.9" y1="951.8" x2="1570.5" y2="950.6" stroke="#17becf" stroke-opacity="0.14" stroke-width="1.5"/>
<line x1="1233.9" y1="952.1" x2="1524.7" y2="951.8" stroke="#17becf" stroke-opacity="0.14" stroke-width="1.5"/>
<line x1="1212.9" y1="924.9" x2="1504.4" y2="913.0" stroke="#f28e2b" stroke-opacity="0.14" stroke-width="1.5"/>
<line x1="1198.4" y1="940.0" x2="1521.7" y2="917.1" stroke="#f28e2b" stroke-opacity="0.14" stroke-width="1.5"/>
<line x1="1242.4" y1="899.7" x2="1572.7" y2="872.0" stroke="#2b2b2b" stroke-opacity="0.14" stroke-width="1.5"/>
<line x1="1211.7" y1="939.3" x2="1573.9" y2="931.1" stroke="#f28e2b" stroke-opacity="0.14" stroke-width="1.5"/>
<line x1="1228.0" y1="951.1" x2="1512.8" y2="945.2" stroke="#f28e2b" stroke-opacity="0.14" stroke-width="1.5"/>
<line x1="1192.5" y1="829.9" x2="1555.4" y2="829.6" stroke="#2ca02c" stroke-opacity="0.14" stroke-width="1.5"/>
<line x1="1222.3" y1="869.8" x2="1523.3" y2="841.8" stroke="#2ca02c" stroke-opacity="0.14" stroke-width="1.5"/>
<line x1="1229.4" y1="873.5" x2="1546.1" y2="868.4" stroke="#2ca02c" stroke-opacity="0.14" stroke-width="1.5"/>
<line x1="1218.4" y1="889.5" x2="1514.0" y2="875.0" stroke="#2ca02c" stroke-opacity="0.14" stroke-width="1.5"/>
<line x1="1194.0" y1="906.0" x2="1561.0" y2="887.9" stroke="#2ca02c" stroke-opacity="0.14" stroke-width="1.5"/>
<line x1="1183.9" y1="745.1" x2="1563.2" y2="775.3" stroke="#2ca02c" stroke-opacity="0.14" stroke-width="1.5"/>
<line x1="1232.1" y1="880.9" x2="1568.7" y2="859.9" stroke="#2ca02c" stroke-opacity="0.14" stroke-width="1.5"/>
<line x1="1207.3" y1="910.5" x2="1526.1" y2="906.0" stroke="#2ca02c" stroke-opacity="0.14" stroke-width="1.5"/>
<line x1="1231.2" y1="918.6" x2="1525.8" y2="908.2" stroke="#2ca02c" stroke-opacity="0.14" stroke-width="1.5"/>
<line x1="1571.3" y1="664.1" x2="1825.5" y2="740.2" stroke="#4e79a7" stroke-opacity="0.14" stroke-width="1.5"/>
<line x1="1515.2" y1="701.3" x2="1892.8" y2="747.6" stroke="#4e79a7" stroke-opacity="0.14" stroke-width="1.5"/>
<line x1="1502.5" y1="711.6" x2="1892.8" y2="774.8" stroke="#e15759" stroke-opacity="0.14" stroke-width="1.5"/>
<line x1="1523.5" y1="712.4" x2="1858.7" y2="782.7" stroke="#7e57c2" stroke-opacity="0.14" stroke-width="1.5"/>
<line x1="1524.1" y1="713.9" x2="1865.6" y2="788.0" stroke="#7e57c2" stroke-opacity="0.14" stroke-width="1.5"/>
<line x1="1574.7" y1="730.7" x2="1880.1" y2="789.1" stroke="#7e57c2" stroke-opacity="0.14" stroke-width="1.5"/>
<line x1="1508.6" y1="740.3" x2="1871.0" y2="799.7" stroke="#7e57c2" stroke-opacity="0.14" stroke-width="1.5"/>
<line x1="1516.5" y1="952.6" x2="1832.1" y2="951.1" stroke="#8c564b" stroke-opacity="0.14" stroke-width="1.5"/>
<line x1="1560.0" y1="698.5" x2="1824.4" y2="771.6" stroke="#e15759" stroke-opacity="0.14" stroke-width="1.5"/>
<line x1="1522.6" y1="681.1" x2="1860.3" y2="739.6" stroke="#7e57c2" stroke-opacity="0.14" stroke-width="1.5"/>
<line x1="1562.5" y1="687.0" x2="1824.4" y2="760.6" stroke="#7e57c2" stroke-opacity="0.14" stroke-width="1.5"/>
<line x1="1509.9" y1="719.2" x2="1884.5" y2="788.2" stroke="#7e57c2" stroke-opacity="0.14" stroke-width="1.5"/>
<line x1="1560.0" y1="723.2" x2="1833.9" y2="795.3" stroke="#7e57c2" stroke-opacity="0.14" stroke-width="1.5"/>
<line x1="1559.8" y1="757.4" x2="1856.5" y2="809.6" stroke="#b07aa1" stroke-opacity="0.14" stroke-width="1.5"/>
<line x1="1503.5" y1="849.9" x2="1876.4" y2="906.8" stroke="#b07aa1" stroke-opacity="0.14" stroke-width="1.5"/>
<line x1="1532.3" y1="891.7" x2="1866.8" y2="909.0" stroke="#b07aa1" stroke-opacity="0.14" stroke-width="1.5"/>
<line x1="1506.9" y1="924.5" x2="1839.5" y2="937.8" stroke="#b07aa1" stroke-opacity="0.14" stroke-width="1.5"/>
<line x1="1539.9" y1="952.1" x2="1820.7" y2="953.0" stroke="#b07aa1" stroke-opacity="0.14" stroke-width="1.5"/>
<line x1="1533.5" y1="954.0" x2="1887.9" y2="953.0" stroke="#b07aa1" stroke-opacity="0.14" stroke-width="1.5"/>
<line x1="1566.9" y1="926.4" x2="1864.3" y2="930.4" stroke="#2b2b2b" stroke-opacity="0.14" stroke-width="1.5"/>
<line x1="1510.2" y1="948.4" x2="1855.7" y2="950.3" stroke="#17becf" stroke-opacity="0.14" stroke-width="1.5"/>
<line x1="1570.5" y1="950.6" x2="1838.5" y2="951.1" stroke="#17becf" stroke-opacity="0.14" stroke-width="1.5"/>
<line x1="1524.7" y1="951.8" x2="1858.0" y2="951.8" stroke="#17becf" stroke-opacity="0.14" stroke-width="1.5"/>
<line x1="1504.4" y1="913.0" x2="1843.5" y2="931.4" stroke="#f28e2b" stroke-opacity="0.14" stroke-width="1.5"/>
<line x1="1521.7" y1="917.1" x2="1882.3" y2="936.3" stroke="#f28e2b" stroke-opacity="0.14" stroke-width="1.5"/>
<line x1="1572.7" y1="872.0" x2="1887.2" y2="906.0" stroke="#2b2b2b" stroke-opacity="0.14" stroke-width="1.5"/>
<line x1="1573.9" y1="931.1" x2="1874.2" y2="937.0" stroke="#f28e2b" stroke-opacity="0.14" stroke-width="1.5"/>
<line x1="1512.8" y1="945.2" x2="1829.9" y2="948.1" stroke="#f28e2b" stroke-opacity="0.14" stroke-width="1.5"/>
<line x1="1555.4" y1="829.6" x2="1876.9" y2="863.2" stroke="#2ca02c" stroke-opacity="0.14" stroke-width="1.5"/>
<line x1="1523.3" y1="841.8" x2="1822.2" y2="892.0" stroke="#2ca02c" stroke-opacity="0.14" stroke-width="1.5"/>
<line x1="1546.1" y1="868.4" x2="1846.4" y2="897.5" stroke="#2ca02c" stroke-opacity="0.14" stroke-width="1.5"/>
<line x1="1514.0" y1="875.0" x2="1824.0" y2="904.8" stroke="#2ca02c" stroke-opacity="0.14" stroke-width="1.5"/>
<line x1="1561.0" y1="887.9" x2="1834.0" y2="907.2" stroke="#2ca02c" stroke-opacity="0.14" stroke-width="1.5"/>
<line x1="1563.2" y1="775.3" x2="1872.7" y2="805.6" stroke="#2ca02c" stroke-opacity="0.14" stroke-width="1.5"/>
<line x1="1568.7" y1="859.9" x2="1854.7" y2="891.3" stroke="#2ca02c" stroke-opacity="0.14" stroke-width="1.5"/>
<line x1="1526.1" y1="906.0" x2="1823.7" y2="923.0" stroke="#2ca02c" stroke-opacity="0.14" stroke-width="1.5"/>
<line x1="1525.8" y1="908.2" x2="1874.2" y2="931.4" stroke="#2ca02c" stroke-opacity="0.14" stroke-width="1.5"/>
<circle cx="1197.4" cy="661.1" r="6.8" fill="#7e57c2" fill-opacity="0.85" stroke="#fff" stroke-width="0.9"/>
<path d="M1210.8 657.6L1219.8 666.6L1210.8 675.6L1201.8 666.6Z" fill="#7e57c2" fill-opacity="0.85" stroke="#fff" stroke-width="0.9"/>
<path d="M1194.2 663.5L1203.2 672.5L1194.2 681.5L1185.2 672.5Z" fill="#7e57c2" fill-opacity="0.85" stroke="#fff" stroke-width="0.9"/>
<circle cx="1216.2" cy="673.5" r="6.8" fill="#7e57c2" fill-opacity="0.85" stroke="#fff" stroke-width="0.9"/>
<path d="M1225.5 661.5L1234.5 670.5L1225.5 679.5L1216.5 670.5Z" fill="#4e79a7" fill-opacity="0.85" stroke="#fff" stroke-width="0.9"/>
<path d="M1228.6 662.2L1237.6 671.3L1228.6 680.3L1219.5 671.3Z" fill="#4e79a7" fill-opacity="0.85" stroke="#fff" stroke-width="0.9"/>
<circle cx="1237.7" cy="663.9" r="6.8" fill="#e15759" fill-opacity="0.85" stroke="#fff" stroke-width="0.9"/>
<path d="M1239.0 660.0L1248.0 669.0L1239.0 678.0L1230.0 669.0Z" fill="#e15759" fill-opacity="0.85" stroke="#fff" stroke-width="0.9"/>
<circle cx="1206.7" cy="693.6" r="6.8" fill="#7e57c2" fill-opacity="0.85" stroke="#fff" stroke-width="0.9"/>
<circle cx="1255.8" cy="690.1" r="6.8" fill="#7e57c2" fill-opacity="0.85" stroke="#fff" stroke-width="0.9"/>
<path d="M1210.8 712.0L1219.8 721.0L1210.8 730.0L1201.8 721.0Z" fill="#7e57c2" fill-opacity="0.85" stroke="#fff" stroke-width="0.9"/>
<path d="M1226.2 716.7L1232.3 728.9L1220.1 728.9Z" fill="#b07aa1" fill-opacity="0.85" stroke="#fff" stroke-width="0.9"/>
<path d="M1258.5 720.9L1267.5 729.9L1258.5 738.9L1249.5 729.9Z" fill="#7e57c2" fill-opacity="0.85" stroke="#fff" stroke-width="0.9"/>
<path d="M1183.9 736.1L1193.0 745.1L1183.9 754.1L1174.9 745.1Z" fill="#2ca02c" fill-opacity="0.85" stroke="#fff" stroke-width="0.9"/>
<circle cx="1192.5" cy="829.9" r="6.8" fill="#2ca02c" fill-opacity="0.85" stroke="#fff" stroke-width="0.9"/>
<circle cx="1222.3" cy="869.8" r="6.8" fill="#2ca02c" fill-opacity="0.85" stroke="#fff" stroke-width="0.9"/>
<circle cx="1229.4" cy="873.5" r="6.8" fill="#2ca02c" fill-opacity="0.85" stroke="#fff" stroke-width="0.9"/>
<path d="M1232.1 871.9L1241.1 880.9L1232.1 889.9L1223.0 880.9Z" fill="#2ca02c" fill-opacity="0.85" stroke="#fff" stroke-width="0.9"/>
<path d="M1191.5 879.2L1197.6 891.4L1185.4 891.4Z" fill="#b07aa1" fill-opacity="0.85" stroke="#fff" stroke-width="0.9"/>
<circle cx="1218.4" cy="889.5" r="6.8" fill="#2ca02c" fill-opacity="0.85" stroke="#fff" stroke-width="0.9"/>
<path d="M1242.4 890.7L1251.5 899.7L1242.4 908.8L1233.4 899.7Z" fill="#2b2b2b" fill-opacity="0.85" stroke="#fff" stroke-width="0.9"/>
<circle cx="1194.0" cy="906.0" r="6.8" fill="#2ca02c" fill-opacity="0.85" stroke="#fff" stroke-width="0.9"/>
<path d="M1207.3 901.5L1216.3 910.5L1207.3 919.5L1198.2 910.5Z" fill="#2ca02c" fill-opacity="0.85" stroke="#fff" stroke-width="0.9"/>
<path d="M1202.5 897.3L1208.6 909.5L1196.4 909.5Z" fill="#b07aa1" fill-opacity="0.85" stroke="#fff" stroke-width="0.9"/>
<path d="M1231.2 909.6L1240.2 918.6L1231.2 927.6L1222.2 918.6Z" fill="#2ca02c" fill-opacity="0.85" stroke="#fff" stroke-width="0.9"/>
<path d="M1212.9 915.9L1222.0 924.9L1212.9 933.9L1203.9 924.9Z" fill="#f28e2b" fill-opacity="0.85" stroke="#fff" stroke-width="0.9"/>
<path d="M1198.4 931.0L1207.5 940.0L1198.4 949.0L1189.4 940.0Z" fill="#f28e2b" fill-opacity="0.85" stroke="#fff" stroke-width="0.9"/>
<circle cx="1211.7" cy="939.3" r="6.8" fill="#f28e2b" fill-opacity="0.85" stroke="#fff" stroke-width="0.9"/>
<path d="M1200.6 928.7L1206.7 940.9L1194.5 940.9Z" fill="#b07aa1" fill-opacity="0.85" stroke="#fff" stroke-width="0.9"/>
<circle cx="1189.5" cy="951.8" r="6.8" fill="#2b2b2b" fill-opacity="0.85" stroke="#fff" stroke-width="0.9"/>
<circle cx="1186.3" cy="950.8" r="6.8" fill="#17becf" fill-opacity="0.85" stroke="#fff" stroke-width="0.9"/>
<path d="M1207.3 946.0L1213.4 958.2L1201.2 958.2Z" fill="#b07aa1" fill-opacity="0.85" stroke="#fff" stroke-width="0.9"/>
<circle cx="1228.0" cy="951.1" r="6.8" fill="#f28e2b" fill-opacity="0.85" stroke="#fff" stroke-width="0.9"/>
<circle cx="1216.9" cy="951.8" r="6.8" fill="#17becf" fill-opacity="0.85" stroke="#fff" stroke-width="0.9"/>
<path d="M1223.2 947.9L1229.3 960.1L1217.1 960.1Z" fill="#b07aa1" fill-opacity="0.85" stroke="#fff" stroke-width="0.9"/>
<circle cx="1233.9" cy="952.1" r="6.8" fill="#17becf" fill-opacity="0.85" stroke="#fff" stroke-width="0.9"/>
<circle cx="1247.2" cy="951.5" r="6.8" fill="#8c564b" fill-opacity="0.85" stroke="#fff" stroke-width="0.9"/>
<path d="M1571.3 655.1L1580.3 664.1L1571.3 673.1L1562.2 664.1Z" fill="#4e79a7" fill-opacity="0.85" stroke="#fff" stroke-width="0.9"/>
<path d="M1522.6 672.1L1531.6 681.1L1522.6 690.1L1513.5 681.1Z" fill="#7e57c2" fill-opacity="0.85" stroke="#fff" stroke-width="0.9"/>
<path d="M1562.5 678.0L1571.5 687.0L1562.5 696.0L1553.5 687.0Z" fill="#7e57c2" fill-opacity="0.85" stroke="#fff" stroke-width="0.9"/>
<path d="M1560.0 689.5L1569.0 698.5L1560.0 707.5L1551.0 698.5Z" fill="#e15759" fill-opacity="0.85" stroke="#fff" stroke-width="0.9"/>
<path d="M1515.2 692.2L1524.2 701.3L1515.2 710.3L1506.2 701.3Z" fill="#4e79a7" fill-opacity="0.85" stroke="#fff" stroke-width="0.9"/>
<circle cx="1502.5" cy="711.6" r="6.8" fill="#e15759" fill-opacity="0.85" stroke="#fff" stroke-width="0.9"/>
<circle cx="1523.5" cy="712.4" r="6.8" fill="#7e57c2" fill-opacity="0.85" stroke="#fff" stroke-width="0.9"/>
<circle cx="1524.1" cy="713.9" r="6.8" fill="#7e57c2" fill-opacity="0.85" stroke="#fff" stroke-width="0.9"/>
<path d="M1509.9 710.2L1519.0 719.2L1509.9 728.2L1500.9 719.2Z" fill="#7e57c2" fill-opacity="0.85" stroke="#fff" stroke-width="0.9"/>
<path d="M1560.0 714.2L1569.0 723.2L1560.0 732.2L1551.0 723.2Z" fill="#7e57c2" fill-opacity="0.85" stroke="#fff" stroke-width="0.9"/>
<circle cx="1574.7" cy="730.7" r="6.8" fill="#7e57c2" fill-opacity="0.85" stroke="#fff" stroke-width="0.9"/>
<circle cx="1508.6" cy="740.3" r="6.8" fill="#7e57c2" fill-opacity="0.85" stroke="#fff" stroke-width="0.9"/>
<path d="M1559.8 751.3L1565.9 763.5L1553.7 763.5Z" fill="#b07aa1" fill-opacity="0.85" stroke="#fff" stroke-width="0.9"/>
<path d="M1563.2 766.2L1572.2 775.3L1563.2 784.3L1554.2 775.3Z" fill="#2ca02c" fill-opacity="0.85" stroke="#fff" stroke-width="0.9"/>
<circle cx="1555.4" cy="829.6" r="6.8" fill="#2ca02c" fill-opacity="0.85" stroke="#fff" stroke-width="0.9"/>
<circle cx="1523.3" cy="841.8" r="6.8" fill="#2ca02c" fill-opacity="0.85" stroke="#fff" stroke-width="0.9"/>
<path d="M1503.5 843.8L1509.6 856.0L1497.4 856.0Z" fill="#b07aa1" fill-opacity="0.85" stroke="#fff" stroke-width="0.9"/>
<path d="M1568.7 850.9L1577.8 859.9L1568.7 868.9L1559.7 859.9Z" fill="#2ca02c" fill-opacity="0.85" stroke="#fff" stroke-width="0.9"/>
<circle cx="1546.1" cy="868.4" r="6.8" fill="#2ca02c" fill-opacity="0.85" stroke="#fff" stroke-width="0.9"/>
<path d="M1572.7 863.0L1581.8 872.0L1572.7 881.0L1563.7 872.0Z" fill="#2b2b2b" fill-opacity="0.85" stroke="#fff" stroke-width="0.9"/>
<circle cx="1514.0" cy="875.0" r="6.8" fill="#2ca02c" fill-opacity="0.85" stroke="#fff" stroke-width="0.9"/>
<circle cx="1561.0" cy="887.9" r="6.8" fill="#2ca02c" fill-opacity="0.85" stroke="#fff" stroke-width="0.9"/>
<path d="M1532.3 885.6L1538.4 897.8L1526.2 897.8Z" fill="#b07aa1" fill-opacity="0.85" stroke="#fff" stroke-width="0.9"/>
<path d="M1526.1 897.0L1535.1 906.0L1526.1 915.0L1517.0 906.0Z" fill="#2ca02c" fill-opacity="0.85" stroke="#fff" stroke-width="0.9"/>
<path d="M1525.8 899.2L1534.8 908.2L1525.8 917.2L1516.8 908.2Z" fill="#2ca02c" fill-opacity="0.85" stroke="#fff" stroke-width="0.9"/>
<path d="M1504.4 904.0L1513.5 913.0L1504.4 922.0L1495.4 913.0Z" fill="#f28e2b" fill-opacity="0.85" stroke="#fff" stroke-width="0.9"/>
<path d="M1521.7 908.1L1530.8 917.1L1521.7 926.1L1512.7 917.1Z" fill="#f28e2b" fill-opacity="0.85" stroke="#fff" stroke-width="0.9"/>
<path d="M1506.9 918.4L1513.0 930.6L1500.8 930.6Z" fill="#b07aa1" fill-opacity="0.85" stroke="#fff" stroke-width="0.9"/>
<circle cx="1573.9" cy="931.1" r="6.8" fill="#f28e2b" fill-opacity="0.85" stroke="#fff" stroke-width="0.9"/>
<circle cx="1566.9" cy="926.4" r="6.8" fill="#2b2b2b" fill-opacity="0.85" stroke="#fff" stroke-width="0.9"/>
<circle cx="1512.8" cy="945.2" r="6.8" fill="#f28e2b" fill-opacity="0.85" stroke="#fff" stroke-width="0.9"/>
<circle cx="1516.5" cy="952.6" r="6.8" fill="#8c564b" fill-opacity="0.85" stroke="#fff" stroke-width="0.9"/>
<circle cx="1510.2" cy="948.4" r="6.8" fill="#17becf" fill-opacity="0.85" stroke="#fff" stroke-width="0.9"/>
<circle cx="1524.7" cy="951.8" r="6.8" fill="#17becf" fill-opacity="0.85" stroke="#fff" stroke-width="0.9"/>
<path d="M1533.5 947.9L1539.6 960.1L1527.4 960.1Z" fill="#b07aa1" fill-opacity="0.85" stroke="#fff" stroke-width="0.9"/>
<path d="M1539.9 946.0L1546.0 958.2L1533.8 958.2Z" fill="#b07aa1" fill-opacity="0.85" stroke="#fff" stroke-width="0.9"/>
<circle cx="1570.5" cy="950.6" r="6.8" fill="#17becf" fill-opacity="0.85" stroke="#fff" stroke-width="0.9"/>
<path d="M1825.5 731.2L1834.5 740.2L1825.5 749.2L1816.5 740.2Z" fill="#4e79a7" fill-opacity="0.85" stroke="#fff" stroke-width="0.9"/>
<path d="M1860.3 730.6L1869.3 739.6L1860.3 748.6L1851.2 739.6Z" fill="#7e57c2" fill-opacity="0.85" stroke="#fff" stroke-width="0.9"/>
<path d="M1892.8 738.6L1901.8 747.6L1892.8 756.6L1883.8 747.6Z" fill="#4e79a7" fill-opacity="0.85" stroke="#fff" stroke-width="0.9"/>
<path d="M1824.4 751.6L1833.5 760.6L1824.4 769.6L1815.4 760.6Z" fill="#7e57c2" fill-opacity="0.85" stroke="#fff" stroke-width="0.9"/>
<path d="M1824.4 762.6L1833.5 771.6L1824.4 780.6L1815.4 771.6Z" fill="#e15759" fill-opacity="0.85" stroke="#fff" stroke-width="0.9"/>
<circle cx="1892.8" cy="774.8" r="6.8" fill="#e15759" fill-opacity="0.85" stroke="#fff" stroke-width="0.9"/>
<circle cx="1858.7" cy="782.7" r="6.8" fill="#7e57c2" fill-opacity="0.85" stroke="#fff" stroke-width="0.9"/>
<circle cx="1865.6" cy="788.0" r="6.8" fill="#7e57c2" fill-opacity="0.85" stroke="#fff" stroke-width="0.9"/>
<circle cx="1880.1" cy="789.1" r="6.8" fill="#7e57c2" fill-opacity="0.85" stroke="#fff" stroke-width="0.9"/>
<path d="M1884.5 779.2L1893.5 788.2L1884.5 797.2L1875.5 788.2Z" fill="#7e57c2" fill-opacity="0.85" stroke="#fff" stroke-width="0.9"/>
<path d="M1833.9 786.2L1843.0 795.3L1833.9 804.3L1824.9 795.3Z" fill="#7e57c2" fill-opacity="0.85" stroke="#fff" stroke-width="0.9"/>
<circle cx="1871.0" cy="799.7" r="6.8" fill="#7e57c2" fill-opacity="0.85" stroke="#fff" stroke-width="0.9"/>
<path d="M1872.7 796.6L1881.8 805.6L1872.7 814.6L1863.7 805.6Z" fill="#2ca02c" fill-opacity="0.85" stroke="#fff" stroke-width="0.9"/>
<path d="M1856.5 803.5L1862.6 815.7L1850.4 815.7Z" fill="#b07aa1" fill-opacity="0.85" stroke="#fff" stroke-width="0.9"/>
<circle cx="1876.9" cy="863.2" r="6.8" fill="#2ca02c" fill-opacity="0.85" stroke="#fff" stroke-width="0.9"/>
<path d="M1854.7 882.2L1863.8 891.3L1854.7 900.3L1845.7 891.3Z" fill="#2ca02c" fill-opacity="0.85" stroke="#fff" stroke-width="0.9"/>
<circle cx="1822.2" cy="892.0" r="6.8" fill="#2ca02c" fill-opacity="0.85" stroke="#fff" stroke-width="0.9"/>
<circle cx="1846.4" cy="897.5" r="6.8" fill="#2ca02c" fill-opacity="0.85" stroke="#fff" stroke-width="0.9"/>
<circle cx="1824.0" cy="904.8" r="6.8" fill="#2ca02c" fill-opacity="0.85" stroke="#fff" stroke-width="0.9"/>
<circle cx="1834.0" cy="907.2" r="6.8" fill="#2ca02c" fill-opacity="0.85" stroke="#fff" stroke-width="0.9"/>
<path d="M1887.2 897.0L1896.2 906.0L1887.2 915.0L1878.2 906.0Z" fill="#2b2b2b" fill-opacity="0.85" stroke="#fff" stroke-width="0.9"/>
<path d="M1866.8 902.9L1872.9 915.1L1860.7 915.1Z" fill="#b07aa1" fill-opacity="0.85" stroke="#fff" stroke-width="0.9"/>
<path d="M1876.4 900.7L1882.5 912.9L1870.3 912.9Z" fill="#b07aa1" fill-opacity="0.85" stroke="#fff" stroke-width="0.9"/>
<path d="M1823.7 914.0L1832.8 923.0L1823.7 932.0L1814.7 923.0Z" fill="#2ca02c" fill-opacity="0.85" stroke="#fff" stroke-width="0.9"/>
<path d="M1843.5 922.4L1852.5 931.4L1843.5 940.4L1834.5 931.4Z" fill="#f28e2b" fill-opacity="0.85" stroke="#fff" stroke-width="0.9"/>
<circle cx="1864.3" cy="930.4" r="6.8" fill="#2b2b2b" fill-opacity="0.85" stroke="#fff" stroke-width="0.9"/>
<circle cx="1874.2" cy="937.0" r="6.8" fill="#f28e2b" fill-opacity="0.85" stroke="#fff" stroke-width="0.9"/>
<path d="M1882.3 927.2L1891.3 936.3L1882.3 945.3L1873.2 936.3Z" fill="#f28e2b" fill-opacity="0.85" stroke="#fff" stroke-width="0.9"/>
<path d="M1874.2 922.4L1883.2 931.4L1874.2 940.4L1865.2 931.4Z" fill="#2ca02c" fill-opacity="0.85" stroke="#fff" stroke-width="0.9"/>
<path d="M1839.5 931.7L1845.6 943.9L1833.4 943.9Z" fill="#b07aa1" fill-opacity="0.85" stroke="#fff" stroke-width="0.9"/>
<circle cx="1829.9" cy="948.1" r="6.8" fill="#f28e2b" fill-opacity="0.85" stroke="#fff" stroke-width="0.9"/>
<circle cx="1832.1" cy="951.1" r="6.8" fill="#8c564b" fill-opacity="0.85" stroke="#fff" stroke-width="0.9"/>
<circle cx="1838.5" cy="951.1" r="6.8" fill="#17becf" fill-opacity="0.85" stroke="#fff" stroke-width="0.9"/>
<circle cx="1855.7" cy="950.3" r="6.8" fill="#17becf" fill-opacity="0.85" stroke="#fff" stroke-width="0.9"/>
<circle cx="1858.0" cy="951.8" r="6.8" fill="#17becf" fill-opacity="0.85" stroke="#fff" stroke-width="0.9"/>
<path d="M1820.7 946.9L1826.8 959.1L1814.6 959.1Z" fill="#b07aa1" fill-opacity="0.85" stroke="#fff" stroke-width="0.9"/>
<path d="M1887.9 946.9L1894.0 959.1L1881.8 959.1Z" fill="#b07aa1" fill-opacity="0.85" stroke="#fff" stroke-width="0.9"/>
<path d="M1103.0 612.5L1103.0 962.4L1976.0 962.4" fill="none" stroke="#000" stroke-width="1.7" stroke-linecap="square"/>
<line x1="1096.0" y1="953.00" x2="1103.0" y2="953.00" stroke="#000" stroke-width="1.7"/>
<text class="tk" text-anchor="end" x="1090.6" y="963.1">0</text>
<line x1="1096.0" y1="862.34" x2="1103.0" y2="862.34" stroke="#000" stroke-width="1.7"/>
<text class="tk" text-anchor="end" x="1090.6" y="872.4">20</text>
<line x1="1096.0" y1="771.68" x2="1103.0" y2="771.68" stroke="#000" stroke-width="1.7"/>
<text class="tk" text-anchor="end" x="1090.6" y="781.8">40</text>
<line x1="1096.0" y1="681.02" x2="1103.0" y2="681.02" stroke="#000" stroke-width="1.7"/>
<text class="tk" text-anchor="end" x="1090.6" y="691.1">60</text>
<line x1="1221.3" y1="962.4" x2="1221.3" y2="969.4" stroke="#000" stroke-width="1.7"/>
<text class="tk" text-anchor="middle" x="1222.5" y="996.0">1-Hop</text>
<line x1="1539.3" y1="962.4" x2="1539.3" y2="969.4" stroke="#000" stroke-width="1.7"/>
<text class="tk" text-anchor="middle" x="1540.5" y="996.0">2-Hop</text>
<line x1="1857.3" y1="962.4" x2="1857.3" y2="969.4" stroke="#000" stroke-width="1.7"/>
<text class="tk" text-anchor="middle" x="1858.5" y="996.0">3-Hop</text>
<line x1="1140.8" y1="831.5" x2="1302.0" y2="831.5" stroke="#000" stroke-width="2.7"/>
<text class="mv" x="1310.4" y="836.7">26.8</text>
<line x1="1458.0" y1="834.0" x2="1619.0" y2="834.0" stroke="#000" stroke-width="2.7"/>
<text class="mv" x="1627.4" y="839.2">26.2</text>
<line x1="1776.0" y1="869.0" x2="1937.0" y2="869.0" stroke="#000" stroke-width="2.7"/>
<text class="mv" x="1945.4" y="874.2">18.5</text>
<text class="an" text-anchor="middle" x="1197.4" y="649.8" fill="#7e57c2" fill-opacity="0.9">Qwen3-VL-235B</text>
<text class="an" text-anchor="middle" x="1571.3" y="652.8" fill="#4e79a7" fill-opacity="0.9">Gemini-3-Flash</text>
<text class="an" text-anchor="middle" x="1860.4" y="728.2" fill="#7e57c2" fill-opacity="0.9">Qwen3-VL-32B-Thinking</text>
<text class="an" text-anchor="middle" x="1292.5" y="949.0" fill="#b07aa1" fill-opacity="0.9">VST-7B-RL</text>
<text class="an" text-anchor="middle" x="1602.5" y="949.0" fill="#b07aa1" fill-opacity="0.9">VST-7B-RL</text>
<text class="an" text-anchor="middle" x="1887.9" y="949.0" fill="#b07aa1" fill-opacity="0.9">VST-7B-RL</text>
<text class="yl" text-anchor="middle" textLength="221.0" lengthAdjust="spacingAndGlyphs" transform="translate(1047.3 786.8) rotate(-90)">Acc@50IoU (%)</text>
<text class="tt" text-anchor="middle" textLength="469.1" lengthAdjust="spacingAndGlyphs" x="1539.3" y="1064.0">(d) Exo-centric — Acc@50IoU</text>
</svg></body></html>
